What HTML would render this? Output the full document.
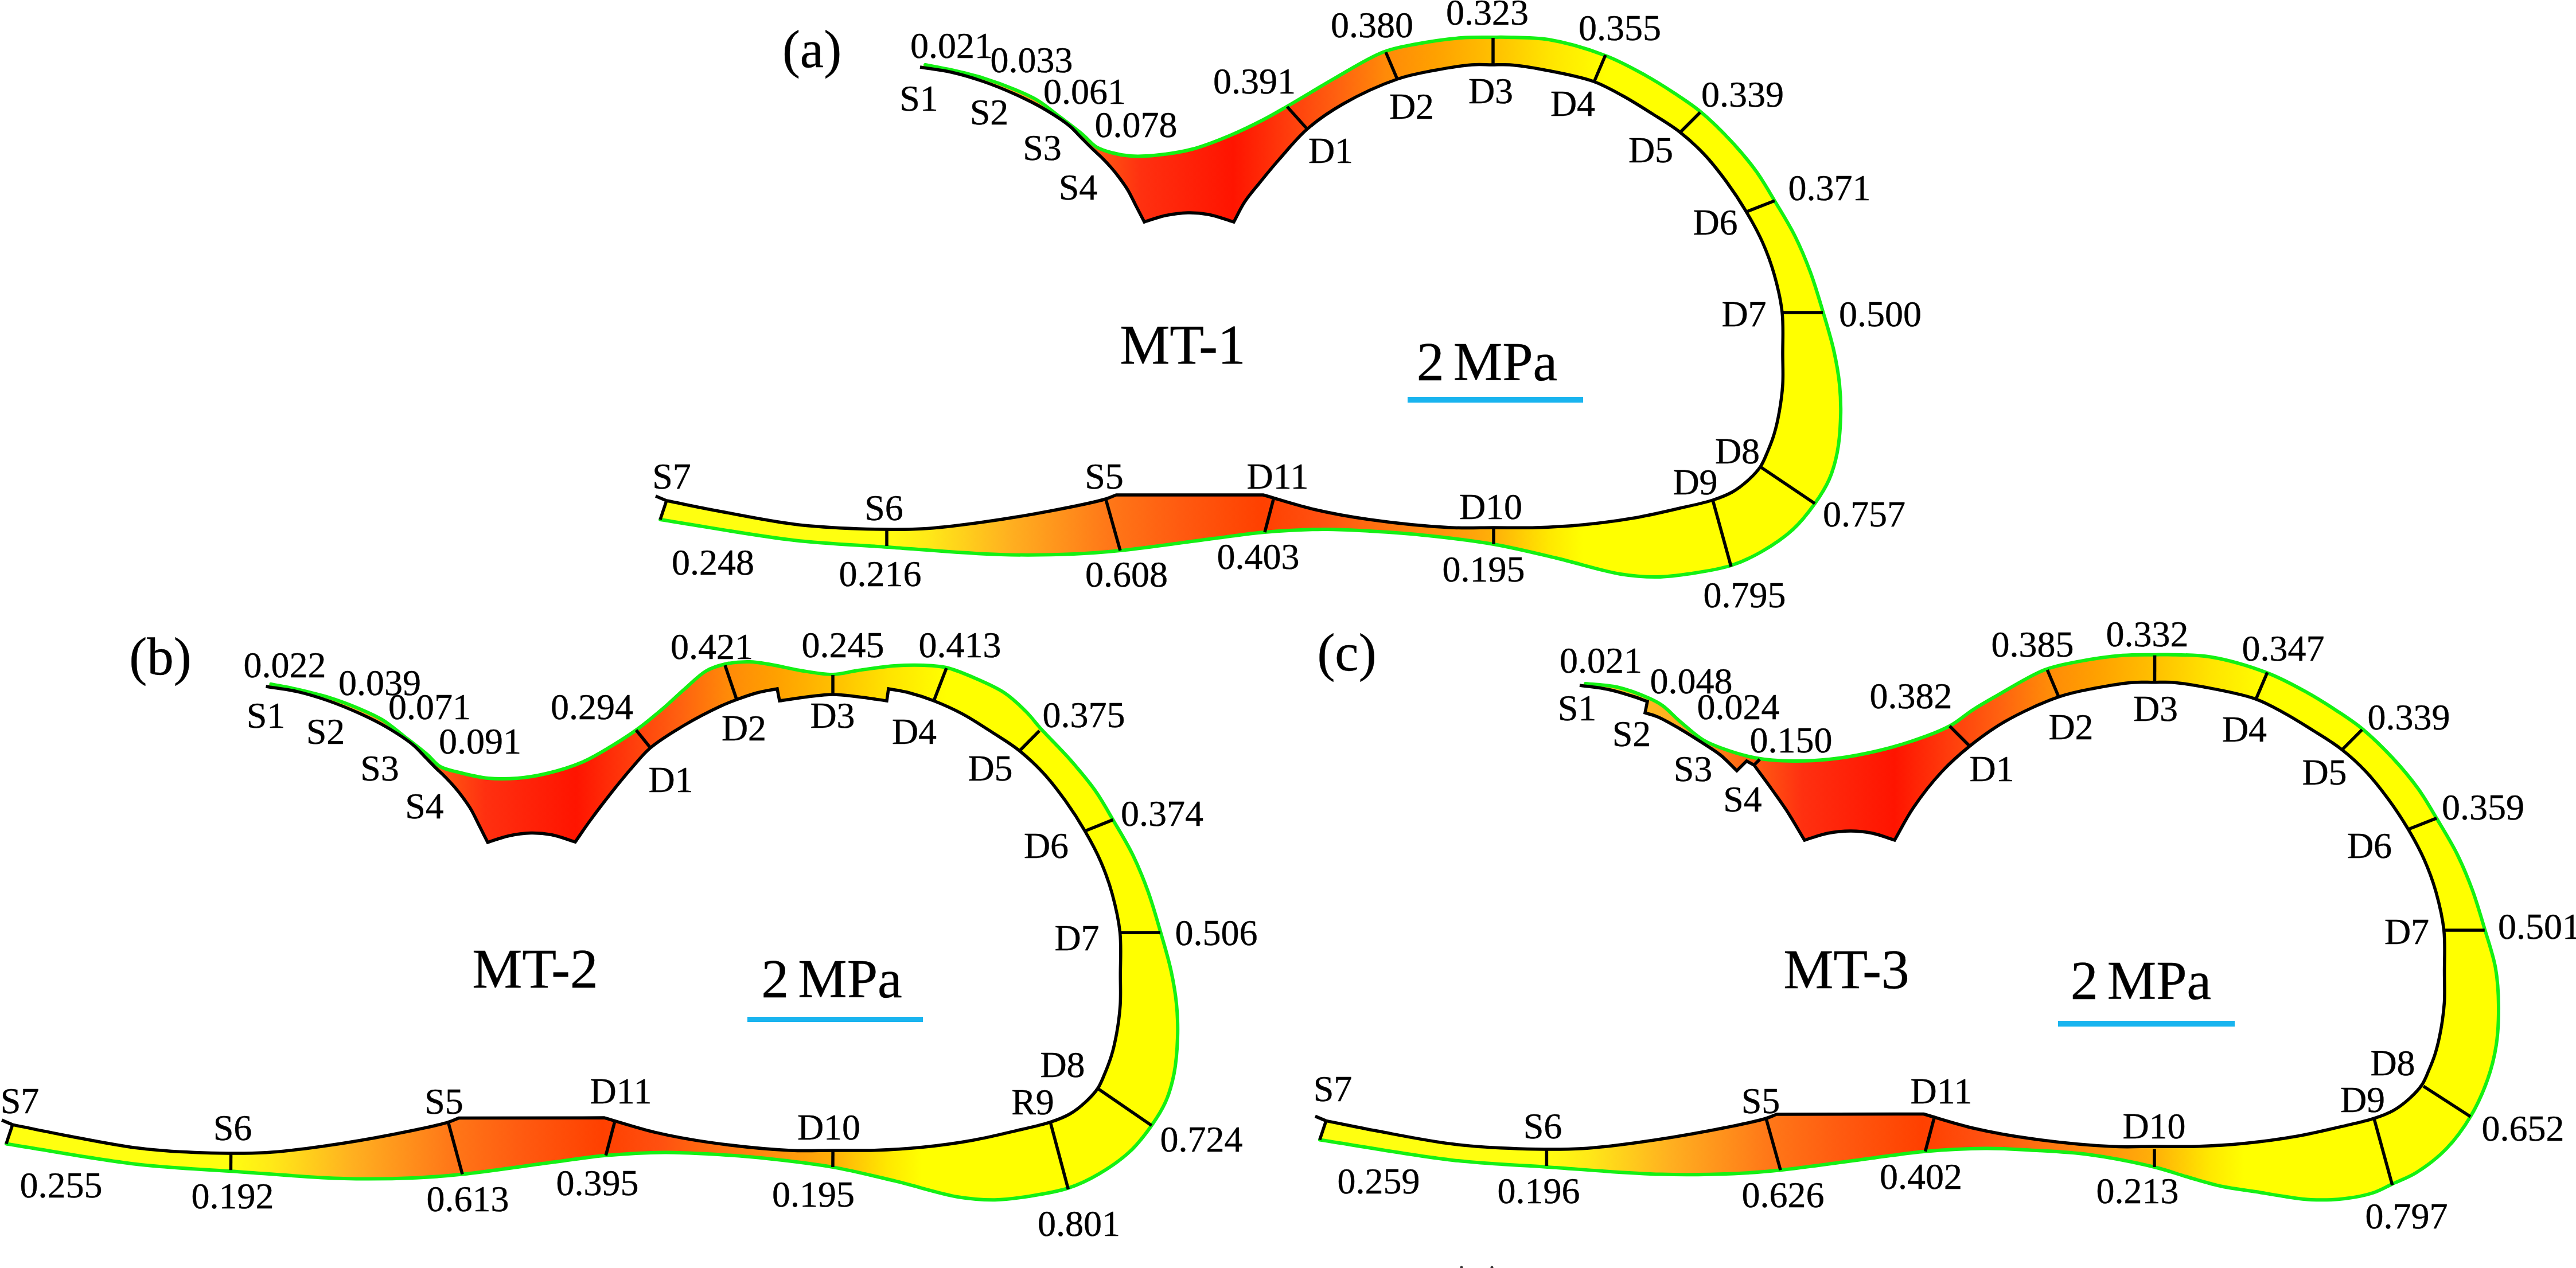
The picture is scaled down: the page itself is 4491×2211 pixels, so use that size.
<!DOCTYPE html><html><head><meta charset="utf-8"><style>html,body{margin:0;padding:0;background:#fff;overflow:hidden}svg{display:block}</style></head><body>
<svg width="4491" height="2211" viewBox="0 0 4491 2211">
<rect width="4491" height="2211" fill="#fff"/>
<defs><linearGradient id="gtop" gradientUnits="userSpaceOnUse" x1="1600" y1="0" x2="2800" y2="0"><stop offset="0.0000" stop-color="#ffd020"/><stop offset="0.1333" stop-color="#ffb020"/><stop offset="0.2333" stop-color="#ff6a14"/><stop offset="0.3250" stop-color="#ff3010"/><stop offset="0.4583" stop-color="#ff1400"/><stop offset="0.5375" stop-color="#ff3c0c"/><stop offset="0.6083" stop-color="#ff6010"/><stop offset="0.6800" stop-color="#ff8a08"/><stop offset="0.7500" stop-color="#ffa000"/><stop offset="0.8367" stop-color="#ffc000"/><stop offset="0.9167" stop-color="#ffe400"/><stop offset="1.0000" stop-color="#ffff00"/></linearGradient><linearGradient id="gbot" gradientUnits="userSpaceOnUse" x1="1140" y1="0" x2="2760" y2="0"><stop offset="0.0000" stop-color="#ffff10"/><stop offset="0.2469" stop-color="#ffff10"/><stop offset="0.2963" stop-color="#ffe818"/><stop offset="0.3827" stop-color="#ffb020"/><stop offset="0.4877" stop-color="#ff7818"/><stop offset="0.5679" stop-color="#ff5a10"/><stop offset="0.6543" stop-color="#ff4000"/><stop offset="0.7160" stop-color="#ff5010"/><stop offset="0.8086" stop-color="#ff8010"/><stop offset="0.9037" stop-color="#ffb008"/><stop offset="0.9630" stop-color="#ffe800"/><stop offset="1.0000" stop-color="#ffff00"/></linearGradient></defs>
<clipPath id="clipa"><path d="M1613.0,113.0 C1628.3,116.0 1643.0,118.4 1659.0,122.0 C1676.6,126.0 1695.8,130.4 1714.0,136.0 C1732.5,141.7 1752.3,149.0 1769.0,156.0 C1783.5,162.1 1796.1,167.3 1809.0,175.0 C1822.5,183.1 1835.0,194.1 1848.0,204.0 C1861.3,214.1 1876.7,225.5 1888.0,235.0 C1896.9,242.5 1902.6,250.8 1911.0,256.0 C1919.0,260.9 1927.6,263.4 1937.0,266.0 C1947.4,268.9 1959.1,271.1 1971.0,272.0 C1984.0,273.0 1996.7,272.4 2012.0,271.0 C2031.7,269.2 2057.0,265.7 2079.0,260.0 C2101.4,254.2 2124.0,244.8 2145.0,236.0 C2164.9,227.7 2184.7,217.9 2202.0,209.0 C2216.9,201.3 2229.1,194.0 2243.0,186.0 C2257.5,177.7 2272.8,168.4 2287.0,160.0 C2300.4,152.1 2310.4,145.8 2326.0,137.0 C2348.8,124.1 2384.9,101.1 2411.0,91.0 C2431.3,83.1 2447.3,81.0 2468.0,77.0 C2492.1,72.4 2522.8,67.9 2547.0,66.0 C2567.5,64.4 2589.4,65.1 2604.0,65.0 C2613.0,64.9 2616.5,64.7 2626.0,65.0 C2643.4,65.5 2673.8,64.6 2700.0,69.0 C2730.9,74.1 2769.4,85.6 2799.0,97.0 C2824.6,106.8 2846.9,119.3 2868.0,131.0 C2886.8,141.4 2903.5,152.1 2920.0,163.0 C2935.7,173.4 2949.9,182.4 2965.0,195.0 C2982.5,209.5 3001.6,228.4 3018.0,246.0 C3033.9,263.1 3048.9,280.9 3062.0,299.0 C3074.4,316.3 3084.1,333.8 3095.0,352.0 C3106.4,371.0 3118.8,390.7 3129.0,411.0 C3139.2,431.4 3147.9,452.3 3156.0,474.0 C3164.3,496.3 3171.1,520.0 3178.0,543.0 C3184.8,565.7 3192.1,589.0 3197.0,611.0 C3201.5,631.2 3205.0,650.5 3207.0,670.0 C3208.9,688.8 3209.6,706.8 3209.0,726.0 C3208.4,746.4 3206.8,769.7 3203.0,789.0 C3199.7,806.0 3195.5,821.2 3189.0,836.0 C3182.5,850.8 3173.9,864.2 3164.0,878.0 C3153.2,893.2 3140.8,909.4 3126.0,923.0 C3110.1,937.6 3089.7,951.3 3071.0,962.0 C3053.6,972.0 3037.2,979.8 3018.0,986.0 C2996.9,992.8 2971.3,996.6 2949.0,1000.0 C2928.4,1003.1 2909.3,1005.8 2889.0,1006.0 C2868.0,1006.2 2849.1,1004.9 2825.0,1001.0 C2792.7,995.7 2750.1,981.7 2713.0,973.0 C2676.5,964.4 2640.9,955.5 2604.0,949.0 C2566.6,942.4 2527.0,937.9 2490.0,934.0 C2455.1,930.3 2419.8,927.9 2388.0,926.0 C2360.0,924.4 2337.1,922.9 2309.0,923.0 C2276.7,923.2 2238.3,925.1 2205.0,928.0 C2174.1,930.6 2150.1,934.7 2116.0,939.0 C2069.8,944.8 1998.0,955.4 1953.0,960.0 C1921.4,963.2 1902.0,964.8 1872.0,966.0 C1834.4,967.5 1792.0,968.4 1745.0,967.0 C1686.3,965.3 1609.8,958.4 1547.0,954.0 C1490.0,950.0 1443.0,948.7 1384.0,942.0 C1313.1,933.9 1228.7,918.0 1151.0,906.0 L1162.0,873.0 C1192.0,879.0 1219.1,884.8 1252.0,891.0 C1291.8,898.4 1341.7,908.8 1384.0,914.0 C1422.7,918.7 1458.6,920.7 1496.0,922.0 C1533.3,923.3 1571.7,924.0 1608.0,922.0 C1642.6,920.1 1673.8,915.8 1709.0,911.0 C1747.8,905.7 1792.7,898.3 1831.0,891.0 C1865.3,884.5 1908.7,875.8 1928.0,870.0 C1936.5,867.4 1940.0,865.3 1946.0,863.0 L2202.0,863.0 C2231.3,871.3 2259.7,880.9 2290.0,888.0 C2321.6,895.4 2352.2,901.0 2388.0,906.0 C2430.8,912.0 2490.3,918.0 2530.0,920.0 C2558.6,921.4 2579.4,920.0 2604.0,920.0 C2628.4,920.0 2651.9,920.8 2677.0,920.0 C2703.8,919.2 2731.8,917.7 2760.0,915.0 C2789.4,912.2 2821.1,908.0 2850.0,903.0 C2877.3,898.3 2904.8,891.6 2929.0,886.0 C2949.6,881.3 2969.6,877.4 2986.0,872.0 C2999.0,867.8 3009.6,863.8 3020.0,858.0 C3029.9,852.4 3038.8,845.4 3047.0,838.0 C3055.1,830.7 3063.2,822.5 3069.0,814.0 C3074.3,806.1 3077.2,797.9 3081.0,789.0 C3085.2,779.1 3089.6,768.3 3093.0,757.0 C3096.7,744.8 3099.6,731.7 3102.0,718.0 C3104.7,702.9 3107.0,686.3 3108.0,670.0 C3109.0,653.3 3108.1,637.6 3108.0,619.0 C3107.8,596.6 3109.6,568.9 3107.0,545.0 C3104.5,522.0 3099.0,499.0 3093.0,478.0 C3087.5,458.6 3080.9,440.9 3073.0,423.0 C3065.0,404.9 3055.3,387.4 3045.0,370.0 C3034.4,352.1 3022.4,333.9 3010.0,317.0 C2997.7,300.3 2985.0,283.8 2971.0,269.0 C2957.3,254.5 2942.4,241.0 2927.0,229.0 C2912.0,217.4 2896.1,208.2 2880.0,198.0 C2863.4,187.5 2846.2,176.4 2829.0,167.0 C2812.2,157.8 2797.6,149.0 2778.0,142.0 C2753.7,133.3 2719.1,127.0 2693.0,122.0 C2671.1,117.8 2649.0,114.2 2632.0,113.0 C2620.0,112.1 2611.6,113.0 2601.0,113.0 C2589.7,113.0 2579.5,112.0 2566.0,113.0 C2547.2,114.4 2520.9,118.8 2499.0,123.0 C2477.6,127.1 2458.7,130.2 2436.0,138.0 C2407.3,147.9 2369.6,165.2 2342.0,181.0 C2318.2,194.6 2297.9,208.5 2279.0,225.0 C2260.7,241.0 2244.8,261.2 2230.0,278.0 C2217.1,292.6 2205.6,306.9 2195.0,320.0 C2185.9,331.3 2177.4,340.8 2170.0,352.0 C2162.7,363.1 2157.3,375.3 2151.0,387.0 C2136.3,382.7 2121.1,376.6 2107.0,374.0 C2094.5,371.7 2083.3,370.7 2071.0,371.0 C2058.0,371.3 2043.9,373.3 2031.0,376.0 C2018.6,378.7 2007.0,383.3 1995.0,387.0 C1990.0,377.3 1984.9,367.5 1980.0,358.0 C1975.3,348.8 1971.1,339.5 1966.0,331.0 C1961.1,322.9 1955.2,314.9 1950.0,308.0 C1945.6,302.1 1941.7,297.4 1937.0,292.0 C1931.8,286.1 1925.6,279.5 1920.0,274.0 C1914.9,269.0 1910.4,265.2 1905.0,260.0 C1898.5,253.8 1890.9,245.9 1884.0,239.0 C1877.3,232.3 1872.5,225.9 1864.0,219.0 C1852.0,209.2 1833.0,197.3 1817.0,188.0 C1801.3,179.0 1785.7,171.5 1769.0,164.0 C1751.4,156.1 1732.5,148.4 1714.0,142.0 C1695.8,135.7 1677.5,130.2 1659.0,126.0 C1640.8,121.9 1622.3,120.0 1604.0,117.0 Z"/></clipPath>
<g clip-path="url(#clipa)">
<path d="M1613.0,113.0 C1628.3,116.0 1643.0,118.4 1659.0,122.0 C1676.6,126.0 1695.8,130.4 1714.0,136.0 C1732.5,141.7 1752.3,149.0 1769.0,156.0 C1783.5,162.1 1796.1,167.3 1809.0,175.0 C1822.5,183.1 1835.0,194.1 1848.0,204.0 C1861.3,214.1 1876.7,225.5 1888.0,235.0 C1896.9,242.5 1902.6,250.8 1911.0,256.0 C1919.0,260.9 1927.6,263.4 1937.0,266.0 C1947.4,268.9 1959.1,271.1 1971.0,272.0 C1984.0,273.0 1996.7,272.4 2012.0,271.0 C2031.7,269.2 2057.0,265.7 2079.0,260.0 C2101.4,254.2 2124.0,244.8 2145.0,236.0 C2164.9,227.7 2184.7,217.9 2202.0,209.0 C2216.9,201.3 2229.1,194.0 2243.0,186.0 C2257.5,177.7 2272.8,168.4 2287.0,160.0 C2300.4,152.1 2310.4,145.8 2326.0,137.0 C2348.8,124.1 2384.9,101.1 2411.0,91.0 C2431.3,83.1 2447.3,81.0 2468.0,77.0 C2492.1,72.4 2522.8,67.9 2547.0,66.0 C2567.5,64.4 2589.4,65.1 2604.0,65.0 C2613.0,64.9 2616.5,64.7 2626.0,65.0 C2643.4,65.5 2673.8,64.6 2700.0,69.0 C2730.9,74.1 2769.4,85.6 2799.0,97.0 C2824.6,106.8 2846.9,119.3 2868.0,131.0 C2886.8,141.4 2903.5,152.1 2920.0,163.0 C2935.7,173.4 2949.9,182.4 2965.0,195.0 C2982.5,209.5 3001.6,228.4 3018.0,246.0 C3033.9,263.1 3048.9,280.9 3062.0,299.0 C3074.4,316.3 3084.1,333.8 3095.0,352.0 C3106.4,371.0 3118.8,390.7 3129.0,411.0 C3139.2,431.4 3147.9,452.3 3156.0,474.0 C3164.3,496.3 3171.1,520.0 3178.0,543.0 C3184.8,565.7 3192.1,589.0 3197.0,611.0 C3201.5,631.2 3205.0,650.5 3207.0,670.0 C3208.9,688.8 3209.6,706.8 3209.0,726.0 C3208.4,746.4 3206.8,769.7 3203.0,789.0 C3199.7,806.0 3195.5,821.2 3189.0,836.0 C3182.5,850.8 3173.9,864.2 3164.0,878.0 C3153.2,893.2 3140.8,909.4 3126.0,923.0 C3110.1,937.6 3089.7,951.3 3071.0,962.0 C3053.6,972.0 3037.2,979.8 3018.0,986.0 C2996.9,992.8 2971.3,996.6 2949.0,1000.0 C2928.4,1003.1 2909.3,1005.8 2889.0,1006.0 C2868.0,1006.2 2849.1,1004.9 2825.0,1001.0 C2792.7,995.7 2750.1,981.7 2713.0,973.0 C2676.5,964.4 2640.9,955.5 2604.0,949.0 C2566.6,942.4 2527.0,937.9 2490.0,934.0 C2455.1,930.3 2419.8,927.9 2388.0,926.0 C2360.0,924.4 2337.1,922.9 2309.0,923.0 C2276.7,923.2 2238.3,925.1 2205.0,928.0 C2174.1,930.6 2150.1,934.7 2116.0,939.0 C2069.8,944.8 1998.0,955.4 1953.0,960.0 C1921.4,963.2 1902.0,964.8 1872.0,966.0 C1834.4,967.5 1792.0,968.4 1745.0,967.0 C1686.3,965.3 1609.8,958.4 1547.0,954.0 C1490.0,950.0 1443.0,948.7 1384.0,942.0 C1313.1,933.9 1228.7,918.0 1151.0,906.0 L1162.0,873.0 C1192.0,879.0 1219.1,884.8 1252.0,891.0 C1291.8,898.4 1341.7,908.8 1384.0,914.0 C1422.7,918.7 1458.6,920.7 1496.0,922.0 C1533.3,923.3 1571.7,924.0 1608.0,922.0 C1642.6,920.1 1673.8,915.8 1709.0,911.0 C1747.8,905.7 1792.7,898.3 1831.0,891.0 C1865.3,884.5 1908.7,875.8 1928.0,870.0 C1936.5,867.4 1940.0,865.3 1946.0,863.0 L2202.0,863.0 C2231.3,871.3 2259.7,880.9 2290.0,888.0 C2321.6,895.4 2352.2,901.0 2388.0,906.0 C2430.8,912.0 2490.3,918.0 2530.0,920.0 C2558.6,921.4 2579.4,920.0 2604.0,920.0 C2628.4,920.0 2651.9,920.8 2677.0,920.0 C2703.8,919.2 2731.8,917.7 2760.0,915.0 C2789.4,912.2 2821.1,908.0 2850.0,903.0 C2877.3,898.3 2904.8,891.6 2929.0,886.0 C2949.6,881.3 2969.6,877.4 2986.0,872.0 C2999.0,867.8 3009.6,863.8 3020.0,858.0 C3029.9,852.4 3038.8,845.4 3047.0,838.0 C3055.1,830.7 3063.2,822.5 3069.0,814.0 C3074.3,806.1 3077.2,797.9 3081.0,789.0 C3085.2,779.1 3089.6,768.3 3093.0,757.0 C3096.7,744.8 3099.6,731.7 3102.0,718.0 C3104.7,702.9 3107.0,686.3 3108.0,670.0 C3109.0,653.3 3108.1,637.6 3108.0,619.0 C3107.8,596.6 3109.6,568.9 3107.0,545.0 C3104.5,522.0 3099.0,499.0 3093.0,478.0 C3087.5,458.6 3080.9,440.9 3073.0,423.0 C3065.0,404.9 3055.3,387.4 3045.0,370.0 C3034.4,352.1 3022.4,333.9 3010.0,317.0 C2997.7,300.3 2985.0,283.8 2971.0,269.0 C2957.3,254.5 2942.4,241.0 2927.0,229.0 C2912.0,217.4 2896.1,208.2 2880.0,198.0 C2863.4,187.5 2846.2,176.4 2829.0,167.0 C2812.2,157.8 2797.6,149.0 2778.0,142.0 C2753.7,133.3 2719.1,127.0 2693.0,122.0 C2671.1,117.8 2649.0,114.2 2632.0,113.0 C2620.0,112.1 2611.6,113.0 2601.0,113.0 C2589.7,113.0 2579.5,112.0 2566.0,113.0 C2547.2,114.4 2520.9,118.8 2499.0,123.0 C2477.6,127.1 2458.7,130.2 2436.0,138.0 C2407.3,147.9 2369.6,165.2 2342.0,181.0 C2318.2,194.6 2297.9,208.5 2279.0,225.0 C2260.7,241.0 2244.8,261.2 2230.0,278.0 C2217.1,292.6 2205.6,306.9 2195.0,320.0 C2185.9,331.3 2177.4,340.8 2170.0,352.0 C2162.7,363.1 2157.3,375.3 2151.0,387.0 C2136.3,382.7 2121.1,376.6 2107.0,374.0 C2094.5,371.7 2083.3,370.7 2071.0,371.0 C2058.0,371.3 2043.9,373.3 2031.0,376.0 C2018.6,378.7 2007.0,383.3 1995.0,387.0 C1990.0,377.3 1984.9,367.5 1980.0,358.0 C1975.3,348.8 1971.1,339.5 1966.0,331.0 C1961.1,322.9 1955.2,314.9 1950.0,308.0 C1945.6,302.1 1941.7,297.4 1937.0,292.0 C1931.8,286.1 1925.6,279.5 1920.0,274.0 C1914.9,269.0 1910.4,265.2 1905.0,260.0 C1898.5,253.8 1890.9,245.9 1884.0,239.0 C1877.3,232.3 1872.5,225.9 1864.0,219.0 C1852.0,209.2 1833.0,197.3 1817.0,188.0 C1801.3,179.0 1785.7,171.5 1769.0,164.0 C1751.4,156.1 1732.5,148.4 1714.0,142.0 C1695.8,135.7 1677.5,130.2 1659.0,126.0 C1640.8,121.9 1622.3,120.0 1604.0,117.0 Z" fill="#ffff00"/>
<g transform="matrix(1.000000 0.000000 0.000000 1.000000 0.000 0.000)">
<rect x="1590" y="20" width="1240" height="400" fill="url(#gtop)"/>
<rect x="1130" y="830" width="1640" height="200" fill="url(#gbot)"/>
</g></g>
<path d="M1613.0,113.0 C1628.3,116.0 1643.0,118.4 1659.0,122.0 C1676.6,126.0 1695.8,130.4 1714.0,136.0 C1732.5,141.7 1752.3,149.0 1769.0,156.0 C1783.5,162.1 1796.1,167.3 1809.0,175.0 C1822.5,183.1 1835.0,194.1 1848.0,204.0 C1861.3,214.1 1876.7,225.5 1888.0,235.0 C1896.9,242.5 1902.6,250.8 1911.0,256.0 C1919.0,260.9 1927.6,263.4 1937.0,266.0 C1947.4,268.9 1959.1,271.1 1971.0,272.0 C1984.0,273.0 1996.7,272.4 2012.0,271.0 C2031.7,269.2 2057.0,265.7 2079.0,260.0 C2101.4,254.2 2124.0,244.8 2145.0,236.0 C2164.9,227.7 2184.7,217.9 2202.0,209.0 C2216.9,201.3 2229.1,194.0 2243.0,186.0 C2257.5,177.7 2272.8,168.4 2287.0,160.0 C2300.4,152.1 2310.4,145.8 2326.0,137.0 C2348.8,124.1 2384.9,101.1 2411.0,91.0 C2431.3,83.1 2447.3,81.0 2468.0,77.0 C2492.1,72.4 2522.8,67.9 2547.0,66.0 C2567.5,64.4 2589.4,65.1 2604.0,65.0 C2613.0,64.9 2616.5,64.7 2626.0,65.0 C2643.4,65.5 2673.8,64.6 2700.0,69.0 C2730.9,74.1 2769.4,85.6 2799.0,97.0 C2824.6,106.8 2846.9,119.3 2868.0,131.0 C2886.8,141.4 2903.5,152.1 2920.0,163.0 C2935.7,173.4 2949.9,182.4 2965.0,195.0 C2982.5,209.5 3001.6,228.4 3018.0,246.0 C3033.9,263.1 3048.9,280.9 3062.0,299.0 C3074.4,316.3 3084.1,333.8 3095.0,352.0 C3106.4,371.0 3118.8,390.7 3129.0,411.0 C3139.2,431.4 3147.9,452.3 3156.0,474.0 C3164.3,496.3 3171.1,520.0 3178.0,543.0 C3184.8,565.7 3192.1,589.0 3197.0,611.0 C3201.5,631.2 3205.0,650.5 3207.0,670.0 C3208.9,688.8 3209.6,706.8 3209.0,726.0 C3208.4,746.4 3206.8,769.7 3203.0,789.0 C3199.7,806.0 3195.5,821.2 3189.0,836.0 C3182.5,850.8 3173.9,864.2 3164.0,878.0 C3153.2,893.2 3140.8,909.4 3126.0,923.0 C3110.1,937.6 3089.7,951.3 3071.0,962.0 C3053.6,972.0 3037.2,979.8 3018.0,986.0 C2996.9,992.8 2971.3,996.6 2949.0,1000.0 C2928.4,1003.1 2909.3,1005.8 2889.0,1006.0 C2868.0,1006.2 2849.1,1004.9 2825.0,1001.0 C2792.7,995.7 2750.1,981.7 2713.0,973.0 C2676.5,964.4 2640.9,955.5 2604.0,949.0 C2566.6,942.4 2527.0,937.9 2490.0,934.0 C2455.1,930.3 2419.8,927.9 2388.0,926.0 C2360.0,924.4 2337.1,922.9 2309.0,923.0 C2276.7,923.2 2238.3,925.1 2205.0,928.0 C2174.1,930.6 2150.1,934.7 2116.0,939.0 C2069.8,944.8 1998.0,955.4 1953.0,960.0 C1921.4,963.2 1902.0,964.8 1872.0,966.0 C1834.4,967.5 1792.0,968.4 1745.0,967.0 C1686.3,965.3 1609.8,958.4 1547.0,954.0 C1490.0,950.0 1443.0,948.7 1384.0,942.0 C1313.1,933.9 1228.7,918.0 1151.0,906.0" fill="none" stroke="#14f014" stroke-width="6" stroke-linejoin="round" stroke-linecap="round"/>
<path d="M1162.0,873.0 C1192.0,879.0 1219.1,884.8 1252.0,891.0 C1291.8,898.4 1341.7,908.8 1384.0,914.0 C1422.7,918.7 1458.6,920.7 1496.0,922.0 C1533.3,923.3 1571.7,924.0 1608.0,922.0 C1642.6,920.1 1673.8,915.8 1709.0,911.0 C1747.8,905.7 1792.7,898.3 1831.0,891.0 C1865.3,884.5 1908.7,875.8 1928.0,870.0 C1936.5,867.4 1940.0,865.3 1946.0,863.0 L2202.0,863.0 C2231.3,871.3 2259.7,880.9 2290.0,888.0 C2321.6,895.4 2352.2,901.0 2388.0,906.0 C2430.8,912.0 2490.3,918.0 2530.0,920.0 C2558.6,921.4 2579.4,920.0 2604.0,920.0 C2628.4,920.0 2651.9,920.8 2677.0,920.0 C2703.8,919.2 2731.8,917.7 2760.0,915.0 C2789.4,912.2 2821.1,908.0 2850.0,903.0 C2877.3,898.3 2904.8,891.6 2929.0,886.0 C2949.6,881.3 2969.6,877.4 2986.0,872.0 C2999.0,867.8 3009.6,863.8 3020.0,858.0 C3029.9,852.4 3038.8,845.4 3047.0,838.0 C3055.1,830.7 3063.2,822.5 3069.0,814.0 C3074.3,806.1 3077.2,797.9 3081.0,789.0 C3085.2,779.1 3089.6,768.3 3093.0,757.0 C3096.7,744.8 3099.6,731.7 3102.0,718.0 C3104.7,702.9 3107.0,686.3 3108.0,670.0 C3109.0,653.3 3108.1,637.6 3108.0,619.0 C3107.8,596.6 3109.6,568.9 3107.0,545.0 C3104.5,522.0 3099.0,499.0 3093.0,478.0 C3087.5,458.6 3080.9,440.9 3073.0,423.0 C3065.0,404.9 3055.3,387.4 3045.0,370.0 C3034.4,352.1 3022.4,333.9 3010.0,317.0 C2997.7,300.3 2985.0,283.8 2971.0,269.0 C2957.3,254.5 2942.4,241.0 2927.0,229.0 C2912.0,217.4 2896.1,208.2 2880.0,198.0 C2863.4,187.5 2846.2,176.4 2829.0,167.0 C2812.2,157.8 2797.6,149.0 2778.0,142.0 C2753.7,133.3 2719.1,127.0 2693.0,122.0 C2671.1,117.8 2649.0,114.2 2632.0,113.0 C2620.0,112.1 2611.6,113.0 2601.0,113.0 C2589.7,113.0 2579.5,112.0 2566.0,113.0 C2547.2,114.4 2520.9,118.8 2499.0,123.0 C2477.6,127.1 2458.7,130.2 2436.0,138.0 C2407.3,147.9 2369.6,165.2 2342.0,181.0 C2318.2,194.6 2297.9,208.5 2279.0,225.0 C2260.7,241.0 2244.8,261.2 2230.0,278.0 C2217.1,292.6 2205.6,306.9 2195.0,320.0 C2185.9,331.3 2177.4,340.8 2170.0,352.0 C2162.7,363.1 2157.3,375.3 2151.0,387.0 C2136.3,382.7 2121.1,376.6 2107.0,374.0 C2094.5,371.7 2083.3,370.7 2071.0,371.0 C2058.0,371.3 2043.9,373.3 2031.0,376.0 C2018.6,378.7 2007.0,383.3 1995.0,387.0 C1990.0,377.3 1984.9,367.5 1980.0,358.0 C1975.3,348.8 1971.1,339.5 1966.0,331.0 C1961.1,322.9 1955.2,314.9 1950.0,308.0 C1945.6,302.1 1941.7,297.4 1937.0,292.0 C1931.8,286.1 1925.6,279.5 1920.0,274.0 C1914.9,269.0 1910.4,265.2 1905.0,260.0 C1898.5,253.8 1890.9,245.9 1884.0,239.0 C1877.3,232.3 1872.5,225.9 1864.0,219.0 C1852.0,209.2 1833.0,197.3 1817.0,188.0 C1801.3,179.0 1785.7,171.5 1769.0,164.0 C1751.4,156.1 1732.5,148.4 1714.0,142.0 C1695.8,135.7 1677.5,130.2 1659.0,126.0 C1640.8,121.9 1622.3,120.0 1604.0,117.0" fill="none" stroke="#000" stroke-width="5.5" stroke-linejoin="miter"/>
<line x1="2244.0" y1="186.0" x2="2279.0" y2="225.0" stroke="#000" stroke-width="5.5"/>
<line x1="2416.0" y1="91.0" x2="2436.0" y2="138.0" stroke="#000" stroke-width="5.5"/>
<line x1="2603.0" y1="66.0" x2="2603.0" y2="113.0" stroke="#000" stroke-width="5.5"/>
<line x1="2799.0" y1="96.0" x2="2779.0" y2="143.0" stroke="#000" stroke-width="5.5"/>
<line x1="2964.0" y1="196.0" x2="2929.0" y2="231.0" stroke="#000" stroke-width="5.5"/>
<line x1="3094.0" y1="350.0" x2="3043.0" y2="370.0" stroke="#000" stroke-width="5.5"/>
<line x1="3178.0" y1="545.0" x2="3107.0" y2="545.0" stroke="#000" stroke-width="5.5"/>
<line x1="3164.0" y1="878.0" x2="3069.0" y2="814.0" stroke="#000" stroke-width="5.5"/>
<line x1="3018.0" y1="988.0" x2="2986.0" y2="872.0" stroke="#000" stroke-width="5.5"/>
<line x1="2604.0" y1="949.0" x2="2604.0" y2="920.0" stroke="#000" stroke-width="5.5"/>
<line x1="2205.0" y1="928.0" x2="2220.0" y2="871.0" stroke="#000" stroke-width="5.5"/>
<line x1="1953.0" y1="960.0" x2="1928.0" y2="871.0" stroke="#000" stroke-width="5.5"/>
<line x1="1546.0" y1="952.0" x2="1546.0" y2="922.0" stroke="#000" stroke-width="5.5"/>
<line x1="1151.0" y1="906.0" x2="1162.0" y2="873.0" stroke="#000" stroke-width="5.5"/>
<line x1="1143.0" y1="865.0" x2="1162.0" y2="873.0" stroke="#000" stroke-width="5.5"/>
<clipPath id="clipb"><path d="M472.4,1192.9 C487.6,1195.9 502.2,1198.3 518.0,1201.9 C535.4,1205.9 554.5,1210.3 572.5,1215.9 C590.8,1221.6 610.4,1229.0 627.0,1236.0 C641.4,1242.1 653.9,1247.3 666.6,1255.1 C680.0,1263.3 692.3,1274.4 705.2,1284.3 C718.3,1294.5 733.5,1306.0 744.7,1315.6 C753.5,1323.1 758.4,1331.5 767.4,1336.7 C777.0,1342.2 788.6,1343.9 801.0,1347.0 C815.9,1350.8 834.2,1355.3 851.0,1357.0 C867.8,1358.7 885.1,1358.3 902.0,1357.0 C918.8,1355.7 934.5,1353.1 952.0,1349.0 C972.0,1344.3 995.5,1337.4 1015.0,1329.0 C1033.3,1321.2 1049.9,1310.6 1066.0,1301.0 C1081.1,1291.9 1094.8,1283.3 1109.0,1273.0 C1124.1,1262.1 1139.6,1249.2 1154.0,1237.0 C1167.9,1225.2 1180.8,1212.4 1194.0,1201.0 C1206.5,1190.2 1218.4,1177.3 1231.0,1170.0 C1241.8,1163.8 1252.1,1160.7 1264.0,1158.0 C1277.2,1155.0 1293.1,1153.7 1307.0,1154.0 C1320.1,1154.2 1331.5,1156.8 1345.0,1159.0 C1360.6,1161.6 1377.7,1166.2 1395.0,1169.0 C1413.3,1172.0 1434.2,1176.3 1452.0,1176.0 C1467.6,1175.7 1480.0,1171.3 1496.0,1169.0 C1515.1,1166.3 1539.1,1162.5 1559.0,1161.0 C1576.9,1159.7 1594.0,1159.4 1610.0,1160.0 C1624.2,1160.6 1636.1,1160.8 1650.0,1164.0 C1666.2,1167.8 1684.3,1175.7 1701.0,1183.0 C1717.9,1190.4 1736.0,1198.0 1751.0,1208.0 C1765.2,1217.5 1777.9,1229.9 1789.0,1241.0 C1798.9,1250.9 1804.8,1259.7 1815.0,1271.0 C1828.9,1286.4 1849.7,1306.4 1865.6,1324.5 C1880.9,1342.1 1896.1,1359.7 1909.0,1378.0 C1921.3,1395.4 1930.7,1413.0 1941.5,1431.4 C1952.7,1450.6 1965.0,1470.4 1975.0,1490.9 C1985.0,1511.5 1993.6,1532.6 2001.5,1554.5 C2009.6,1577.0 2016.3,1600.9 2023.0,1624.1 C2029.7,1647.0 2036.8,1670.5 2041.6,1692.7 C2046.0,1713.2 2049.4,1732.6 2051.2,1752.3 C2053.1,1771.3 2053.6,1789.4 2053.0,1808.8 C2052.3,1829.4 2050.6,1853.0 2046.8,1872.4 C2043.4,1889.6 2039.2,1904.9 2032.7,1919.9 C2026.2,1934.9 2017.6,1948.4 2007.7,1962.4 C1996.9,1977.7 1984.6,1994.1 1969.8,2007.9 C1954.1,2022.6 1933.7,2036.5 1915.1,2047.4 C1897.9,2057.5 1881.5,2065.4 1862.4,2071.7 C1841.5,2078.6 1816.1,2082.5 1793.9,2086.0 C1773.5,2089.2 1754.6,2091.9 1734.4,2092.2 C1713.6,2092.4 1694.8,2091.1 1670.9,2087.2 C1638.9,2082.0 1596.8,2067.9 1560.0,2059.2 C1523.8,2050.6 1488.5,2041.6 1451.9,2035.1 C1414.8,2028.6 1375.6,2024.1 1338.9,2020.2 C1304.3,2016.6 1269.4,2014.1 1237.8,2012.3 C1210.0,2010.7 1187.3,2009.3 1159.4,2009.4 C1127.4,2009.7 1089.2,2011.8 1056.2,2014.7 C1025.6,2017.4 1001.8,2021.6 967.9,2026.0 C922.1,2031.9 850.8,2042.8 806.1,2047.5 C774.8,2050.8 755.6,2052.4 725.8,2053.7 C688.5,2055.3 646.4,2056.2 599.8,2055.0 C541.5,2053.4 465.7,2046.5 403.4,2042.2 C346.9,2038.3 300.3,2037.1 241.8,2030.4 C171.5,2022.4 87.8,2006.5 10.8,1994.5 L21.9,1961.1 C51.6,1967.1 78.5,1973.0 111.1,1979.2 C150.5,1986.6 200.0,1997.0 241.9,2002.1 C280.3,2006.8 315.9,2008.7 353.0,2010.0 C390.0,2011.3 428.0,2011.8 464.1,2009.8 C498.4,2007.8 529.4,2003.4 564.3,1998.5 C602.8,1993.1 647.4,1985.5 685.4,1978.0 C719.4,1971.4 762.5,1962.6 781.7,1956.7 C790.2,1954.1 793.6,1951.9 799.6,1949.6 L1053.5,1949.1 C1082.6,1957.4 1110.7,1967.1 1140.7,1974.1 C1172.1,1981.5 1202.4,1987.1 1237.9,1992.1 C1280.3,1998.1 1339.3,2004.1 1378.7,2006.0 C1407.0,2007.4 1427.7,2005.9 1452.1,2005.9 C1476.3,2005.8 1499.6,2006.5 1524.5,2005.7 C1551.0,2004.9 1578.9,2003.3 1606.8,2000.5 C1636.0,1997.6 1667.4,1993.4 1696.1,1988.2 C1723.2,1983.4 1750.6,1976.6 1774.6,1970.9 C1795.0,1966.1 1814.9,1962.1 1831.2,1956.7 C1844.1,1952.4 1854.7,1948.4 1865.0,1942.5 C1874.8,1936.8 1883.7,1929.7 1891.8,1922.2 C1899.9,1914.8 1908.0,1906.6 1913.8,1897.9 C1919.1,1890.0 1921.9,1881.7 1925.8,1872.7 C1930.0,1862.7 1934.4,1851.8 1937.8,1840.3 C1941.5,1828.0 1944.4,1814.8 1946.9,1800.9 C1949.6,1785.7 1952.0,1768.9 1953.0,1752.5 C1954.1,1735.6 1953.3,1719.7 1953.3,1701.0 C1953.2,1678.4 1955.1,1650.4 1952.6,1626.3 C1950.2,1603.0 1944.8,1579.9 1939.0,1558.6 C1933.6,1539.0 1927.2,1521.2 1919.4,1503.1 C1911.5,1484.9 1902.0,1467.2 1891.8,1449.7 C1881.4,1431.6 1869.6,1413.3 1857.3,1396.2 C1845.2,1379.4 1832.7,1362.7 1818.8,1347.8 C1805.3,1333.2 1790.6,1319.6 1775.4,1307.5 C1760.6,1295.8 1744.8,1286.6 1728.9,1276.3 C1712.5,1265.8 1695.5,1254.3 1678.4,1245.1 C1661.9,1236.3 1644.3,1228.4 1628.0,1222.0 C1613.3,1216.2 1598.8,1211.6 1585.0,1208.0 C1572.6,1204.8 1561.0,1203.3 1549.0,1201.0 L1546.0,1222.0 C1529.3,1219.7 1512.2,1216.9 1496.0,1215.0 C1480.9,1213.3 1466.7,1211.0 1452.0,1211.0 C1437.3,1211.0 1423.0,1213.2 1408.0,1215.0 C1392.1,1216.9 1375.3,1219.7 1359.0,1222.0 L1355.0,1201.0 C1343.3,1203.3 1331.7,1204.9 1320.0,1208.0 C1308.0,1211.2 1295.1,1215.9 1284.0,1220.0 C1274.3,1223.6 1267.7,1226.0 1257.0,1231.0 C1240.2,1238.8 1214.4,1251.9 1194.0,1264.0 C1173.4,1276.2 1150.0,1290.5 1134.0,1304.0 C1121.5,1314.5 1114.4,1324.2 1104.0,1336.0 C1091.9,1349.8 1078.5,1366.2 1066.0,1382.0 C1053.2,1398.2 1039.2,1416.6 1028.0,1432.0 C1018.6,1444.9 1011.3,1456.0 1003.0,1468.0 C989.1,1463.8 974.8,1458.1 961.4,1455.5 C949.1,1453.2 937.9,1452.3 925.7,1452.5 C912.8,1452.8 898.7,1454.9 886.0,1457.7 C873.6,1460.4 862.1,1465.1 850.2,1468.8 C845.3,1459.1 840.3,1449.2 835.5,1439.6 C830.8,1430.3 826.7,1420.9 821.7,1412.3 C816.8,1404.1 811.0,1396.1 805.9,1389.2 C801.5,1383.2 797.8,1378.5 793.1,1373.0 C788.0,1367.1 781.8,1360.5 776.3,1354.9 C771.3,1349.8 766.8,1346.0 761.5,1340.8 C755.1,1334.5 747.6,1326.6 740.7,1319.6 C734.1,1312.8 729.4,1306.4 721.0,1299.5 C709.1,1289.6 690.4,1277.6 674.5,1268.2 C659.0,1259.2 643.5,1251.6 627.0,1244.1 C609.6,1236.2 590.8,1228.4 572.5,1222.0 C554.5,1215.7 536.3,1210.1 518.0,1205.9 C500.0,1201.8 481.7,1200.0 463.5,1197.0 Z"/></clipPath>
<g clip-path="url(#clipb)">
<path d="M472.4,1192.9 C487.6,1195.9 502.2,1198.3 518.0,1201.9 C535.4,1205.9 554.5,1210.3 572.5,1215.9 C590.8,1221.6 610.4,1229.0 627.0,1236.0 C641.4,1242.1 653.9,1247.3 666.6,1255.1 C680.0,1263.3 692.3,1274.4 705.2,1284.3 C718.3,1294.5 733.5,1306.0 744.7,1315.6 C753.5,1323.1 758.4,1331.5 767.4,1336.7 C777.0,1342.2 788.6,1343.9 801.0,1347.0 C815.9,1350.8 834.2,1355.3 851.0,1357.0 C867.8,1358.7 885.1,1358.3 902.0,1357.0 C918.8,1355.7 934.5,1353.1 952.0,1349.0 C972.0,1344.3 995.5,1337.4 1015.0,1329.0 C1033.3,1321.2 1049.9,1310.6 1066.0,1301.0 C1081.1,1291.9 1094.8,1283.3 1109.0,1273.0 C1124.1,1262.1 1139.6,1249.2 1154.0,1237.0 C1167.9,1225.2 1180.8,1212.4 1194.0,1201.0 C1206.5,1190.2 1218.4,1177.3 1231.0,1170.0 C1241.8,1163.8 1252.1,1160.7 1264.0,1158.0 C1277.2,1155.0 1293.1,1153.7 1307.0,1154.0 C1320.1,1154.2 1331.5,1156.8 1345.0,1159.0 C1360.6,1161.6 1377.7,1166.2 1395.0,1169.0 C1413.3,1172.0 1434.2,1176.3 1452.0,1176.0 C1467.6,1175.7 1480.0,1171.3 1496.0,1169.0 C1515.1,1166.3 1539.1,1162.5 1559.0,1161.0 C1576.9,1159.7 1594.0,1159.4 1610.0,1160.0 C1624.2,1160.6 1636.1,1160.8 1650.0,1164.0 C1666.2,1167.8 1684.3,1175.7 1701.0,1183.0 C1717.9,1190.4 1736.0,1198.0 1751.0,1208.0 C1765.2,1217.5 1777.9,1229.9 1789.0,1241.0 C1798.9,1250.9 1804.8,1259.7 1815.0,1271.0 C1828.9,1286.4 1849.7,1306.4 1865.6,1324.5 C1880.9,1342.1 1896.1,1359.7 1909.0,1378.0 C1921.3,1395.4 1930.7,1413.0 1941.5,1431.4 C1952.7,1450.6 1965.0,1470.4 1975.0,1490.9 C1985.0,1511.5 1993.6,1532.6 2001.5,1554.5 C2009.6,1577.0 2016.3,1600.9 2023.0,1624.1 C2029.7,1647.0 2036.8,1670.5 2041.6,1692.7 C2046.0,1713.2 2049.4,1732.6 2051.2,1752.3 C2053.1,1771.3 2053.6,1789.4 2053.0,1808.8 C2052.3,1829.4 2050.6,1853.0 2046.8,1872.4 C2043.4,1889.6 2039.2,1904.9 2032.7,1919.9 C2026.2,1934.9 2017.6,1948.4 2007.7,1962.4 C1996.9,1977.7 1984.6,1994.1 1969.8,2007.9 C1954.1,2022.6 1933.7,2036.5 1915.1,2047.4 C1897.9,2057.5 1881.5,2065.4 1862.4,2071.7 C1841.5,2078.6 1816.1,2082.5 1793.9,2086.0 C1773.5,2089.2 1754.6,2091.9 1734.4,2092.2 C1713.6,2092.4 1694.8,2091.1 1670.9,2087.2 C1638.9,2082.0 1596.8,2067.9 1560.0,2059.2 C1523.8,2050.6 1488.5,2041.6 1451.9,2035.1 C1414.8,2028.6 1375.6,2024.1 1338.9,2020.2 C1304.3,2016.6 1269.4,2014.1 1237.8,2012.3 C1210.0,2010.7 1187.3,2009.3 1159.4,2009.4 C1127.4,2009.7 1089.2,2011.8 1056.2,2014.7 C1025.6,2017.4 1001.8,2021.6 967.9,2026.0 C922.1,2031.9 850.8,2042.8 806.1,2047.5 C774.8,2050.8 755.6,2052.4 725.8,2053.7 C688.5,2055.3 646.4,2056.2 599.8,2055.0 C541.5,2053.4 465.7,2046.5 403.4,2042.2 C346.9,2038.3 300.3,2037.1 241.8,2030.4 C171.5,2022.4 87.8,2006.5 10.8,1994.5 L21.9,1961.1 C51.6,1967.1 78.5,1973.0 111.1,1979.2 C150.5,1986.6 200.0,1997.0 241.9,2002.1 C280.3,2006.8 315.9,2008.7 353.0,2010.0 C390.0,2011.3 428.0,2011.8 464.1,2009.8 C498.4,2007.8 529.4,2003.4 564.3,1998.5 C602.8,1993.1 647.4,1985.5 685.4,1978.0 C719.4,1971.4 762.5,1962.6 781.7,1956.7 C790.2,1954.1 793.6,1951.9 799.6,1949.6 L1053.5,1949.1 C1082.6,1957.4 1110.7,1967.1 1140.7,1974.1 C1172.1,1981.5 1202.4,1987.1 1237.9,1992.1 C1280.3,1998.1 1339.3,2004.1 1378.7,2006.0 C1407.0,2007.4 1427.7,2005.9 1452.1,2005.9 C1476.3,2005.8 1499.6,2006.5 1524.5,2005.7 C1551.0,2004.9 1578.9,2003.3 1606.8,2000.5 C1636.0,1997.6 1667.4,1993.4 1696.1,1988.2 C1723.2,1983.4 1750.6,1976.6 1774.6,1970.9 C1795.0,1966.1 1814.9,1962.1 1831.2,1956.7 C1844.1,1952.4 1854.7,1948.4 1865.0,1942.5 C1874.8,1936.8 1883.7,1929.7 1891.8,1922.2 C1899.9,1914.8 1908.0,1906.6 1913.8,1897.9 C1919.1,1890.0 1921.9,1881.7 1925.8,1872.7 C1930.0,1862.7 1934.4,1851.8 1937.8,1840.3 C1941.5,1828.0 1944.4,1814.8 1946.9,1800.9 C1949.6,1785.7 1952.0,1768.9 1953.0,1752.5 C1954.1,1735.6 1953.3,1719.7 1953.3,1701.0 C1953.2,1678.4 1955.1,1650.4 1952.6,1626.3 C1950.2,1603.0 1944.8,1579.9 1939.0,1558.6 C1933.6,1539.0 1927.2,1521.2 1919.4,1503.1 C1911.5,1484.9 1902.0,1467.2 1891.8,1449.7 C1881.4,1431.6 1869.6,1413.3 1857.3,1396.2 C1845.2,1379.4 1832.7,1362.7 1818.8,1347.8 C1805.3,1333.2 1790.6,1319.6 1775.4,1307.5 C1760.6,1295.8 1744.8,1286.6 1728.9,1276.3 C1712.5,1265.8 1695.5,1254.3 1678.4,1245.1 C1661.9,1236.3 1644.3,1228.4 1628.0,1222.0 C1613.3,1216.2 1598.8,1211.6 1585.0,1208.0 C1572.6,1204.8 1561.0,1203.3 1549.0,1201.0 L1546.0,1222.0 C1529.3,1219.7 1512.2,1216.9 1496.0,1215.0 C1480.9,1213.3 1466.7,1211.0 1452.0,1211.0 C1437.3,1211.0 1423.0,1213.2 1408.0,1215.0 C1392.1,1216.9 1375.3,1219.7 1359.0,1222.0 L1355.0,1201.0 C1343.3,1203.3 1331.7,1204.9 1320.0,1208.0 C1308.0,1211.2 1295.1,1215.9 1284.0,1220.0 C1274.3,1223.6 1267.7,1226.0 1257.0,1231.0 C1240.2,1238.8 1214.4,1251.9 1194.0,1264.0 C1173.4,1276.2 1150.0,1290.5 1134.0,1304.0 C1121.5,1314.5 1114.4,1324.2 1104.0,1336.0 C1091.9,1349.8 1078.5,1366.2 1066.0,1382.0 C1053.2,1398.2 1039.2,1416.6 1028.0,1432.0 C1018.6,1444.9 1011.3,1456.0 1003.0,1468.0 C989.1,1463.8 974.8,1458.1 961.4,1455.5 C949.1,1453.2 937.9,1452.3 925.7,1452.5 C912.8,1452.8 898.7,1454.9 886.0,1457.7 C873.6,1460.4 862.1,1465.1 850.2,1468.8 C845.3,1459.1 840.3,1449.2 835.5,1439.6 C830.8,1430.3 826.7,1420.9 821.7,1412.3 C816.8,1404.1 811.0,1396.1 805.9,1389.2 C801.5,1383.2 797.8,1378.5 793.1,1373.0 C788.0,1367.1 781.8,1360.5 776.3,1354.9 C771.3,1349.8 766.8,1346.0 761.5,1340.8 C755.1,1334.5 747.6,1326.6 740.7,1319.6 C734.1,1312.8 729.4,1306.4 721.0,1299.5 C709.1,1289.6 690.4,1277.6 674.5,1268.2 C659.0,1259.2 643.5,1251.6 627.0,1244.1 C609.6,1236.2 590.8,1228.4 572.5,1222.0 C554.5,1215.7 536.3,1210.1 518.0,1205.9 C500.0,1201.8 481.7,1200.0 463.5,1197.0 Z" fill="#ffff00"/>
<g transform="matrix(0.991939 -0.001903 -0.004217 1.009720 -1127.075 1081.872)">
<rect x="1590" y="20" width="1240" height="400" fill="url(#gtop)"/>
<rect x="1130" y="830" width="1640" height="200" fill="url(#gbot)"/>
</g></g>
<path d="M472.4,1192.9 C487.6,1195.9 502.2,1198.3 518.0,1201.9 C535.4,1205.9 554.5,1210.3 572.5,1215.9 C590.8,1221.6 610.4,1229.0 627.0,1236.0 C641.4,1242.1 653.9,1247.3 666.6,1255.1 C680.0,1263.3 692.3,1274.4 705.2,1284.3 C718.3,1294.5 733.5,1306.0 744.7,1315.6 C753.5,1323.1 758.4,1331.5 767.4,1336.7 C777.0,1342.2 788.6,1343.9 801.0,1347.0 C815.9,1350.8 834.2,1355.3 851.0,1357.0 C867.8,1358.7 885.1,1358.3 902.0,1357.0 C918.8,1355.7 934.5,1353.1 952.0,1349.0 C972.0,1344.3 995.5,1337.4 1015.0,1329.0 C1033.3,1321.2 1049.9,1310.6 1066.0,1301.0 C1081.1,1291.9 1094.8,1283.3 1109.0,1273.0 C1124.1,1262.1 1139.6,1249.2 1154.0,1237.0 C1167.9,1225.2 1180.8,1212.4 1194.0,1201.0 C1206.5,1190.2 1218.4,1177.3 1231.0,1170.0 C1241.8,1163.8 1252.1,1160.7 1264.0,1158.0 C1277.2,1155.0 1293.1,1153.7 1307.0,1154.0 C1320.1,1154.2 1331.5,1156.8 1345.0,1159.0 C1360.6,1161.6 1377.7,1166.2 1395.0,1169.0 C1413.3,1172.0 1434.2,1176.3 1452.0,1176.0 C1467.6,1175.7 1480.0,1171.3 1496.0,1169.0 C1515.1,1166.3 1539.1,1162.5 1559.0,1161.0 C1576.9,1159.7 1594.0,1159.4 1610.0,1160.0 C1624.2,1160.6 1636.1,1160.8 1650.0,1164.0 C1666.2,1167.8 1684.3,1175.7 1701.0,1183.0 C1717.9,1190.4 1736.0,1198.0 1751.0,1208.0 C1765.2,1217.5 1777.9,1229.9 1789.0,1241.0 C1798.9,1250.9 1804.8,1259.7 1815.0,1271.0 C1828.9,1286.4 1849.7,1306.4 1865.6,1324.5 C1880.9,1342.1 1896.1,1359.7 1909.0,1378.0 C1921.3,1395.4 1930.7,1413.0 1941.5,1431.4 C1952.7,1450.6 1965.0,1470.4 1975.0,1490.9 C1985.0,1511.5 1993.6,1532.6 2001.5,1554.5 C2009.6,1577.0 2016.3,1600.9 2023.0,1624.1 C2029.7,1647.0 2036.8,1670.5 2041.6,1692.7 C2046.0,1713.2 2049.4,1732.6 2051.2,1752.3 C2053.1,1771.3 2053.6,1789.4 2053.0,1808.8 C2052.3,1829.4 2050.6,1853.0 2046.8,1872.4 C2043.4,1889.6 2039.2,1904.9 2032.7,1919.9 C2026.2,1934.9 2017.6,1948.4 2007.7,1962.4 C1996.9,1977.7 1984.6,1994.1 1969.8,2007.9 C1954.1,2022.6 1933.7,2036.5 1915.1,2047.4 C1897.9,2057.5 1881.5,2065.4 1862.4,2071.7 C1841.5,2078.6 1816.1,2082.5 1793.9,2086.0 C1773.5,2089.2 1754.6,2091.9 1734.4,2092.2 C1713.6,2092.4 1694.8,2091.1 1670.9,2087.2 C1638.9,2082.0 1596.8,2067.9 1560.0,2059.2 C1523.8,2050.6 1488.5,2041.6 1451.9,2035.1 C1414.8,2028.6 1375.6,2024.1 1338.9,2020.2 C1304.3,2016.6 1269.4,2014.1 1237.8,2012.3 C1210.0,2010.7 1187.3,2009.3 1159.4,2009.4 C1127.4,2009.7 1089.2,2011.8 1056.2,2014.7 C1025.6,2017.4 1001.8,2021.6 967.9,2026.0 C922.1,2031.9 850.8,2042.8 806.1,2047.5 C774.8,2050.8 755.6,2052.4 725.8,2053.7 C688.5,2055.3 646.4,2056.2 599.8,2055.0 C541.5,2053.4 465.7,2046.5 403.4,2042.2 C346.9,2038.3 300.3,2037.1 241.8,2030.4 C171.5,2022.4 87.8,2006.5 10.8,1994.5" fill="none" stroke="#14f014" stroke-width="6" stroke-linejoin="round" stroke-linecap="round"/>
<path d="M21.9,1961.1 C51.6,1967.1 78.5,1973.0 111.1,1979.2 C150.5,1986.6 200.0,1997.0 241.9,2002.1 C280.3,2006.8 315.9,2008.7 353.0,2010.0 C390.0,2011.3 428.0,2011.8 464.1,2009.8 C498.4,2007.8 529.4,2003.4 564.3,1998.5 C602.8,1993.1 647.4,1985.5 685.4,1978.0 C719.4,1971.4 762.5,1962.6 781.7,1956.7 C790.2,1954.1 793.6,1951.9 799.6,1949.6 L1053.5,1949.1 C1082.6,1957.4 1110.7,1967.1 1140.7,1974.1 C1172.1,1981.5 1202.4,1987.1 1237.9,1992.1 C1280.3,1998.1 1339.3,2004.1 1378.7,2006.0 C1407.0,2007.4 1427.7,2005.9 1452.1,2005.9 C1476.3,2005.8 1499.6,2006.5 1524.5,2005.7 C1551.0,2004.9 1578.9,2003.3 1606.8,2000.5 C1636.0,1997.6 1667.4,1993.4 1696.1,1988.2 C1723.2,1983.4 1750.6,1976.6 1774.6,1970.9 C1795.0,1966.1 1814.9,1962.1 1831.2,1956.7 C1844.1,1952.4 1854.7,1948.4 1865.0,1942.5 C1874.8,1936.8 1883.7,1929.7 1891.8,1922.2 C1899.9,1914.8 1908.0,1906.6 1913.8,1897.9 C1919.1,1890.0 1921.9,1881.7 1925.8,1872.7 C1930.0,1862.7 1934.4,1851.8 1937.8,1840.3 C1941.5,1828.0 1944.4,1814.8 1946.9,1800.9 C1949.6,1785.7 1952.0,1768.9 1953.0,1752.5 C1954.1,1735.6 1953.3,1719.7 1953.3,1701.0 C1953.2,1678.4 1955.1,1650.4 1952.6,1626.3 C1950.2,1603.0 1944.8,1579.9 1939.0,1558.6 C1933.6,1539.0 1927.2,1521.2 1919.4,1503.1 C1911.5,1484.9 1902.0,1467.2 1891.8,1449.7 C1881.4,1431.6 1869.6,1413.3 1857.3,1396.2 C1845.2,1379.4 1832.7,1362.7 1818.8,1347.8 C1805.3,1333.2 1790.6,1319.6 1775.4,1307.5 C1760.6,1295.8 1744.8,1286.6 1728.9,1276.3 C1712.5,1265.8 1695.5,1254.3 1678.4,1245.1 C1661.9,1236.3 1644.3,1228.4 1628.0,1222.0 C1613.3,1216.2 1598.8,1211.6 1585.0,1208.0 C1572.6,1204.8 1561.0,1203.3 1549.0,1201.0 L1546.0,1222.0 C1529.3,1219.7 1512.2,1216.9 1496.0,1215.0 C1480.9,1213.3 1466.7,1211.0 1452.0,1211.0 C1437.3,1211.0 1423.0,1213.2 1408.0,1215.0 C1392.1,1216.9 1375.3,1219.7 1359.0,1222.0 L1355.0,1201.0 C1343.3,1203.3 1331.7,1204.9 1320.0,1208.0 C1308.0,1211.2 1295.1,1215.9 1284.0,1220.0 C1274.3,1223.6 1267.7,1226.0 1257.0,1231.0 C1240.2,1238.8 1214.4,1251.9 1194.0,1264.0 C1173.4,1276.2 1150.0,1290.5 1134.0,1304.0 C1121.5,1314.5 1114.4,1324.2 1104.0,1336.0 C1091.9,1349.8 1078.5,1366.2 1066.0,1382.0 C1053.2,1398.2 1039.2,1416.6 1028.0,1432.0 C1018.6,1444.9 1011.3,1456.0 1003.0,1468.0 C989.1,1463.8 974.8,1458.1 961.4,1455.5 C949.1,1453.2 937.9,1452.3 925.7,1452.5 C912.8,1452.8 898.7,1454.9 886.0,1457.7 C873.6,1460.4 862.1,1465.1 850.2,1468.8 C845.3,1459.1 840.3,1449.2 835.5,1439.6 C830.8,1430.3 826.7,1420.9 821.7,1412.3 C816.8,1404.1 811.0,1396.1 805.9,1389.2 C801.5,1383.2 797.8,1378.5 793.1,1373.0 C788.0,1367.1 781.8,1360.5 776.3,1354.9 C771.3,1349.8 766.8,1346.0 761.5,1340.8 C755.1,1334.5 747.6,1326.6 740.7,1319.6 C734.1,1312.8 729.4,1306.4 721.0,1299.5 C709.1,1289.6 690.4,1277.6 674.5,1268.2 C659.0,1259.2 643.5,1251.6 627.0,1244.1 C609.6,1236.2 590.8,1228.4 572.5,1222.0 C554.5,1215.7 536.3,1210.1 518.0,1205.9 C500.0,1201.8 481.7,1200.0 463.5,1197.0" fill="none" stroke="#000" stroke-width="5.5" stroke-linejoin="miter"/>
<line x1="1109.0" y1="1273.0" x2="1134.0" y2="1304.0" stroke="#000" stroke-width="5.5"/>
<line x1="1264.0" y1="1160.0" x2="1284.0" y2="1219.0" stroke="#000" stroke-width="5.5"/>
<line x1="1452.0" y1="1177.0" x2="1452.0" y2="1211.0" stroke="#000" stroke-width="5.5"/>
<line x1="1650.0" y1="1165.0" x2="1628.0" y2="1222.0" stroke="#000" stroke-width="5.5"/>
<line x1="1812.2" y1="1274.1" x2="1777.3" y2="1309.5" stroke="#000" stroke-width="5.5"/>
<line x1="1940.5" y1="1429.4" x2="1889.8" y2="1449.7" stroke="#000" stroke-width="5.5"/>
<line x1="2023.0" y1="1626.1" x2="1952.6" y2="1626.3" stroke="#000" stroke-width="5.5"/>
<line x1="2007.7" y1="1962.4" x2="1913.8" y2="1897.9" stroke="#000" stroke-width="5.5"/>
<line x1="1862.4" y1="2073.7" x2="1831.2" y2="1956.7" stroke="#000" stroke-width="5.5"/>
<line x1="1451.9" y1="2035.1" x2="1452.1" y2="2005.9" stroke="#000" stroke-width="5.5"/>
<line x1="1056.2" y1="2014.7" x2="1071.4" y2="1957.1" stroke="#000" stroke-width="5.5"/>
<line x1="806.1" y1="2047.5" x2="781.7" y2="1957.7" stroke="#000" stroke-width="5.5"/>
<line x1="402.4" y1="2040.2" x2="402.6" y2="2009.9" stroke="#000" stroke-width="5.5"/>
<line x1="10.8" y1="1994.5" x2="21.9" y2="1961.1" stroke="#000" stroke-width="5.5"/>
<line x1="3.1" y1="1953.1" x2="21.9" y2="1961.1" stroke="#000" stroke-width="5.5"/>
<clipPath id="clipc"><path d="M2764.0,1192.0 C2782.3,1194.0 2800.9,1193.9 2819.0,1198.0 C2837.6,1202.2 2859.6,1210.7 2874.0,1217.0 C2883.9,1221.3 2889.8,1224.2 2898.0,1230.0 C2908.1,1237.1 2917.9,1248.5 2929.0,1258.0 C2941.3,1268.5 2956.0,1282.1 2969.0,1290.0 C2979.6,1296.5 2987.7,1299.5 3000.0,1304.0 C3017.1,1310.3 3041.8,1318.2 3063.0,1322.0 C3083.8,1325.8 3105.0,1326.7 3126.0,1327.0 C3147.0,1327.3 3168.1,1326.2 3189.0,1324.0 C3210.1,1321.8 3230.1,1318.6 3252.0,1314.0 C3276.3,1308.9 3303.3,1302.1 3328.0,1294.0 C3352.3,1286.0 3379.1,1276.7 3399.0,1266.0 C3415.1,1257.4 3426.3,1246.2 3439.9,1237.5 C3453.0,1229.1 3463.4,1223.2 3479.0,1214.3 C3501.9,1201.4 3538.1,1178.2 3564.3,1168.1 C3584.6,1160.2 3600.7,1157.9 3621.4,1153.9 C3645.5,1149.3 3676.2,1144.7 3700.5,1142.8 C3721.1,1141.1 3743.0,1141.8 3757.6,1141.7 C3766.7,1141.6 3770.2,1141.4 3779.7,1141.6 C3797.1,1142.1 3827.5,1141.2 3853.8,1145.5 C3884.7,1150.6 3923.3,1162.1 3952.9,1173.4 C3978.5,1183.2 4000.8,1195.7 4022.0,1207.4 C4040.8,1217.8 4057.4,1228.4 4074.0,1239.4 C4089.7,1249.8 4103.9,1258.8 4119.0,1271.4 C4136.5,1285.9 4155.6,1304.8 4172.0,1322.4 C4187.9,1339.5 4202.9,1357.4 4216.0,1375.5 C4228.4,1392.8 4238.1,1410.3 4249.0,1428.6 C4260.4,1447.7 4272.8,1467.4 4282.9,1487.7 C4293.1,1508.1 4301.8,1529.1 4309.9,1550.8 C4318.2,1573.2 4325.0,1597.0 4331.8,1620.0 C4338.6,1642.7 4346.7,1665.4 4350.7,1688.1 C4354.6,1710.1 4355.8,1731.9 4356.0,1754.0 C4356.2,1776.5 4355.3,1800.2 4352.0,1822.0 C4348.8,1842.8 4344.1,1861.9 4337.0,1882.0 C4329.4,1903.6 4319.1,1926.7 4307.0,1947.0 C4295.0,1967.0 4281.0,1986.6 4265.0,2003.0 C4249.3,2019.2 4229.2,2034.3 4212.0,2045.0 C4197.9,2053.7 4183.9,2058.4 4170.8,2064.5 C4159.0,2070.0 4149.6,2075.9 4137.0,2080.0 C4122.4,2084.8 4105.1,2088.0 4088.0,2090.0 C4069.6,2092.2 4048.5,2092.8 4030.0,2092.0 C4012.9,2091.3 3997.2,2088.3 3981.0,2086.0 C3964.9,2083.7 3949.8,2080.7 3933.0,2078.0 C3914.6,2075.0 3894.3,2073.1 3875.0,2069.0 C3855.3,2064.8 3835.7,2058.6 3816.0,2053.0 C3796.0,2047.3 3779.4,2040.7 3756.0,2035.0 C3724.2,2027.2 3679.1,2018.2 3642.0,2013.2 C3607.1,2008.6 3571.7,2007.2 3539.8,2005.4 C3511.8,2003.8 3488.9,2002.3 3460.7,2002.5 C3428.4,2002.7 3389.9,2004.8 3356.5,2007.7 C3325.6,2010.4 3301.5,2014.5 3267.4,2018.9 C3221.1,2024.8 3149.1,2035.6 3104.1,2040.2 C3072.4,2043.5 3053.0,2045.1 3022.9,2046.4 C2985.3,2048.0 2942.8,2048.9 2895.7,2047.6 C2836.9,2046.0 2760.3,2039.2 2697.4,2034.9 C2640.3,2031.1 2593.3,2029.8 2534.1,2023.2 C2463.1,2015.2 2378.6,1999.4 2300.8,1987.5 L2311.9,1954.4 C2341.9,1960.3 2369.0,1966.2 2402.0,1972.3 C2441.8,1979.7 2491.8,1990.0 2534.2,1995.1 C2573.0,1999.8 2608.9,2001.7 2646.4,2002.9 C2683.7,2004.2 2722.2,2004.8 2758.5,2002.7 C2793.2,2000.8 2824.5,1996.4 2859.7,1991.5 C2898.6,1986.2 2943.6,1978.6 2982.0,1971.3 C3016.3,1964.7 3059.8,1955.9 3079.2,1950.0 C3087.7,1947.5 3091.2,1945.3 3097.2,1943.0 L3353.6,1942.5 C3383.0,1950.9 3411.4,1960.4 3441.7,1967.5 C3473.4,1974.8 3504.0,1980.4 3539.9,1985.3 C3582.8,1991.3 3642.3,1997.2 3682.1,1999.1 C3710.7,2000.5 3731.6,1999.1 3756.2,1999.0 C3780.7,1999.0 3804.2,1999.7 3829.3,1998.9 C3856.2,1998.0 3884.3,1996.5 3912.5,1993.7 C3942.0,1990.8 3973.7,1986.6 4002.7,1981.5 C4030.0,1976.7 4057.6,1970.0 4081.8,1964.4 C4102.4,1959.6 4122.5,1955.6 4138.9,1950.2 C4151.9,1945.9 4162.6,1942.0 4173.0,1936.1 C4182.9,1930.5 4191.8,1923.5 4200.1,1916.0 C4208.2,1908.7 4216.4,1900.5 4222.2,1891.9 C4227.5,1884.0 4230.4,1875.8 4234.2,1866.8 C4238.5,1856.9 4242.9,1846.1 4246.3,1834.7 C4250.0,1822.4 4252.9,1809.4 4255.4,1795.6 C4258.1,1780.4 4260.4,1763.8 4261.5,1747.5 C4262.5,1730.7 4261.6,1714.9 4261.6,1696.3 C4261.4,1673.9 4263.3,1646.1 4260.7,1622.1 C4258.2,1599.0 4252.7,1576.0 4246.8,1554.9 C4241.2,1535.5 4234.7,1517.8 4226.8,1499.8 C4218.8,1481.7 4209.2,1464.2 4198.9,1446.7 C4188.2,1428.8 4176.3,1410.6 4163.9,1393.7 C4151.6,1376.9 4138.9,1360.4 4124.9,1345.6 C4111.2,1331.1 4096.3,1317.5 4080.9,1305.6 C4065.9,1293.9 4050.0,1284.7 4033.9,1274.5 C4017.3,1264.1 4000.1,1253.0 3982.8,1243.6 C3966.0,1234.4 3951.4,1225.6 3931.8,1218.6 C3907.4,1209.9 3872.8,1203.6 3846.7,1198.7 C3824.7,1194.5 3802.6,1191.0 3785.6,1189.7 C3773.5,1188.9 3765.2,1189.8 3754.5,1189.8 C3743.2,1189.8 3733.0,1188.8 3719.5,1189.9 C3700.7,1191.3 3674.3,1195.7 3652.3,1200.0 C3630.9,1204.2 3611.9,1207.3 3589.2,1215.2 C3560.5,1225.1 3522.4,1242.7 3495.0,1258.4 C3471.8,1271.7 3452.8,1286.0 3434.0,1301.0 C3416.3,1315.2 3400.7,1329.1 3385.0,1346.0 C3367.9,1364.4 3350.1,1387.3 3336.0,1408.0 C3323.1,1426.9 3314.0,1446.0 3303.0,1465.0 C3290.3,1461.0 3277.8,1455.7 3265.0,1453.0 C3252.5,1450.4 3239.9,1449.0 3227.0,1449.0 C3213.6,1448.9 3199.5,1450.4 3186.0,1453.0 C3172.5,1455.7 3159.3,1461.0 3146.0,1465.0 C3135.3,1447.3 3124.4,1427.9 3114.0,1412.0 C3105.1,1398.4 3097.0,1387.6 3088.0,1375.0 C3078.4,1361.6 3068.0,1347.7 3058.0,1334.0 L3045.0,1327.0 L3028.0,1344.0 C3018.7,1335.0 3009.9,1325.1 3000.0,1317.0 C2990.2,1309.1 2980.1,1303.2 2969.0,1296.0 C2956.6,1287.9 2942.4,1278.8 2929.0,1271.0 C2916.0,1263.5 2901.3,1254.8 2890.0,1250.0 C2881.8,1246.5 2875.3,1245.3 2868.0,1243.0 L2872.0,1223.0 C2862.3,1219.7 2853.5,1216.2 2843.0,1213.0 C2830.8,1209.2 2817.1,1204.9 2803.0,1202.0 C2787.6,1198.8 2770.3,1197.3 2754.0,1195.0 Z"/></clipPath>
<g clip-path="url(#clipc)">
<path d="M2764.0,1192.0 C2782.3,1194.0 2800.9,1193.9 2819.0,1198.0 C2837.6,1202.2 2859.6,1210.7 2874.0,1217.0 C2883.9,1221.3 2889.8,1224.2 2898.0,1230.0 C2908.1,1237.1 2917.9,1248.5 2929.0,1258.0 C2941.3,1268.5 2956.0,1282.1 2969.0,1290.0 C2979.6,1296.5 2987.7,1299.5 3000.0,1304.0 C3017.1,1310.3 3041.8,1318.2 3063.0,1322.0 C3083.8,1325.8 3105.0,1326.7 3126.0,1327.0 C3147.0,1327.3 3168.1,1326.2 3189.0,1324.0 C3210.1,1321.8 3230.1,1318.6 3252.0,1314.0 C3276.3,1308.9 3303.3,1302.1 3328.0,1294.0 C3352.3,1286.0 3379.1,1276.7 3399.0,1266.0 C3415.1,1257.4 3426.3,1246.2 3439.9,1237.5 C3453.0,1229.1 3463.4,1223.2 3479.0,1214.3 C3501.9,1201.4 3538.1,1178.2 3564.3,1168.1 C3584.6,1160.2 3600.7,1157.9 3621.4,1153.9 C3645.5,1149.3 3676.2,1144.7 3700.5,1142.8 C3721.1,1141.1 3743.0,1141.8 3757.6,1141.7 C3766.7,1141.6 3770.2,1141.4 3779.7,1141.6 C3797.1,1142.1 3827.5,1141.2 3853.8,1145.5 C3884.7,1150.6 3923.3,1162.1 3952.9,1173.4 C3978.5,1183.2 4000.8,1195.7 4022.0,1207.4 C4040.8,1217.8 4057.4,1228.4 4074.0,1239.4 C4089.7,1249.8 4103.9,1258.8 4119.0,1271.4 C4136.5,1285.9 4155.6,1304.8 4172.0,1322.4 C4187.9,1339.5 4202.9,1357.4 4216.0,1375.5 C4228.4,1392.8 4238.1,1410.3 4249.0,1428.6 C4260.4,1447.7 4272.8,1467.4 4282.9,1487.7 C4293.1,1508.1 4301.8,1529.1 4309.9,1550.8 C4318.2,1573.2 4325.0,1597.0 4331.8,1620.0 C4338.6,1642.7 4346.7,1665.4 4350.7,1688.1 C4354.6,1710.1 4355.8,1731.9 4356.0,1754.0 C4356.2,1776.5 4355.3,1800.2 4352.0,1822.0 C4348.8,1842.8 4344.1,1861.9 4337.0,1882.0 C4329.4,1903.6 4319.1,1926.7 4307.0,1947.0 C4295.0,1967.0 4281.0,1986.6 4265.0,2003.0 C4249.3,2019.2 4229.2,2034.3 4212.0,2045.0 C4197.9,2053.7 4183.9,2058.4 4170.8,2064.5 C4159.0,2070.0 4149.6,2075.9 4137.0,2080.0 C4122.4,2084.8 4105.1,2088.0 4088.0,2090.0 C4069.6,2092.2 4048.5,2092.8 4030.0,2092.0 C4012.9,2091.3 3997.2,2088.3 3981.0,2086.0 C3964.9,2083.7 3949.8,2080.7 3933.0,2078.0 C3914.6,2075.0 3894.3,2073.1 3875.0,2069.0 C3855.3,2064.8 3835.7,2058.6 3816.0,2053.0 C3796.0,2047.3 3779.4,2040.7 3756.0,2035.0 C3724.2,2027.2 3679.1,2018.2 3642.0,2013.2 C3607.1,2008.6 3571.7,2007.2 3539.8,2005.4 C3511.8,2003.8 3488.9,2002.3 3460.7,2002.5 C3428.4,2002.7 3389.9,2004.8 3356.5,2007.7 C3325.6,2010.4 3301.5,2014.5 3267.4,2018.9 C3221.1,2024.8 3149.1,2035.6 3104.1,2040.2 C3072.4,2043.5 3053.0,2045.1 3022.9,2046.4 C2985.3,2048.0 2942.8,2048.9 2895.7,2047.6 C2836.9,2046.0 2760.3,2039.2 2697.4,2034.9 C2640.3,2031.1 2593.3,2029.8 2534.1,2023.2 C2463.1,2015.2 2378.6,1999.4 2300.8,1987.5 L2311.9,1954.4 C2341.9,1960.3 2369.0,1966.2 2402.0,1972.3 C2441.8,1979.7 2491.8,1990.0 2534.2,1995.1 C2573.0,1999.8 2608.9,2001.7 2646.4,2002.9 C2683.7,2004.2 2722.2,2004.8 2758.5,2002.7 C2793.2,2000.8 2824.5,1996.4 2859.7,1991.5 C2898.6,1986.2 2943.6,1978.6 2982.0,1971.3 C3016.3,1964.7 3059.8,1955.9 3079.2,1950.0 C3087.7,1947.5 3091.2,1945.3 3097.2,1943.0 L3353.6,1942.5 C3383.0,1950.9 3411.4,1960.4 3441.7,1967.5 C3473.4,1974.8 3504.0,1980.4 3539.9,1985.3 C3582.8,1991.3 3642.3,1997.2 3682.1,1999.1 C3710.7,2000.5 3731.6,1999.1 3756.2,1999.0 C3780.7,1999.0 3804.2,1999.7 3829.3,1998.9 C3856.2,1998.0 3884.3,1996.5 3912.5,1993.7 C3942.0,1990.8 3973.7,1986.6 4002.7,1981.5 C4030.0,1976.7 4057.6,1970.0 4081.8,1964.4 C4102.4,1959.6 4122.5,1955.6 4138.9,1950.2 C4151.9,1945.9 4162.6,1942.0 4173.0,1936.1 C4182.9,1930.5 4191.8,1923.5 4200.1,1916.0 C4208.2,1908.7 4216.4,1900.5 4222.2,1891.9 C4227.5,1884.0 4230.4,1875.8 4234.2,1866.8 C4238.5,1856.9 4242.9,1846.1 4246.3,1834.7 C4250.0,1822.4 4252.9,1809.4 4255.4,1795.6 C4258.1,1780.4 4260.4,1763.8 4261.5,1747.5 C4262.5,1730.7 4261.6,1714.9 4261.6,1696.3 C4261.4,1673.9 4263.3,1646.1 4260.7,1622.1 C4258.2,1599.0 4252.7,1576.0 4246.8,1554.9 C4241.2,1535.5 4234.7,1517.8 4226.8,1499.8 C4218.8,1481.7 4209.2,1464.2 4198.9,1446.7 C4188.2,1428.8 4176.3,1410.6 4163.9,1393.7 C4151.6,1376.9 4138.9,1360.4 4124.9,1345.6 C4111.2,1331.1 4096.3,1317.5 4080.9,1305.6 C4065.9,1293.9 4050.0,1284.7 4033.9,1274.5 C4017.3,1264.1 4000.1,1253.0 3982.8,1243.6 C3966.0,1234.4 3951.4,1225.6 3931.8,1218.6 C3907.4,1209.9 3872.8,1203.6 3846.7,1198.7 C3824.7,1194.5 3802.6,1191.0 3785.6,1189.7 C3773.5,1188.9 3765.2,1189.8 3754.5,1189.8 C3743.2,1189.8 3733.0,1188.8 3719.5,1189.9 C3700.7,1191.3 3674.3,1195.7 3652.3,1200.0 C3630.9,1204.2 3611.9,1207.3 3589.2,1215.2 C3560.5,1225.1 3522.4,1242.7 3495.0,1258.4 C3471.8,1271.7 3452.8,1286.0 3434.0,1301.0 C3416.3,1315.2 3400.7,1329.1 3385.0,1346.0 C3367.9,1364.4 3350.1,1387.3 3336.0,1408.0 C3323.1,1426.9 3314.0,1446.0 3303.0,1465.0 C3290.3,1461.0 3277.8,1455.7 3265.0,1453.0 C3252.5,1450.4 3239.9,1449.0 3227.0,1449.0 C3213.6,1448.9 3199.5,1450.4 3186.0,1453.0 C3172.5,1455.7 3159.3,1461.0 3146.0,1465.0 C3135.3,1447.3 3124.4,1427.9 3114.0,1412.0 C3105.1,1398.4 3097.0,1387.6 3088.0,1375.0 C3078.4,1361.6 3068.0,1347.7 3058.0,1334.0 L3045.0,1327.0 L3028.0,1344.0 C3018.7,1335.0 3009.9,1325.1 3000.0,1317.0 C2990.2,1309.1 2980.1,1303.2 2969.0,1296.0 C2956.6,1287.9 2942.4,1278.8 2929.0,1271.0 C2916.0,1263.5 2901.3,1254.8 2890.0,1250.0 C2881.8,1246.5 2875.3,1245.3 2868.0,1243.0 L2872.0,1223.0 C2862.3,1219.7 2853.5,1216.2 2843.0,1213.0 C2830.8,1209.2 2817.1,1204.9 2803.0,1202.0 C2787.6,1198.8 2770.3,1197.3 2754.0,1195.0 Z" fill="#ffff00"/>
<g transform="matrix(1.001676 -0.001732 -0.001647 1.002747 1149.365 1080.994)">
<rect x="1590" y="20" width="1240" height="400" fill="url(#gtop)"/>
<rect x="1130" y="830" width="1640" height="200" fill="url(#gbot)"/>
</g></g>
<path d="M2764.0,1192.0 C2782.3,1194.0 2800.9,1193.9 2819.0,1198.0 C2837.6,1202.2 2859.6,1210.7 2874.0,1217.0 C2883.9,1221.3 2889.8,1224.2 2898.0,1230.0 C2908.1,1237.1 2917.9,1248.5 2929.0,1258.0 C2941.3,1268.5 2956.0,1282.1 2969.0,1290.0 C2979.6,1296.5 2987.7,1299.5 3000.0,1304.0 C3017.1,1310.3 3041.8,1318.2 3063.0,1322.0 C3083.8,1325.8 3105.0,1326.7 3126.0,1327.0 C3147.0,1327.3 3168.1,1326.2 3189.0,1324.0 C3210.1,1321.8 3230.1,1318.6 3252.0,1314.0 C3276.3,1308.9 3303.3,1302.1 3328.0,1294.0 C3352.3,1286.0 3379.1,1276.7 3399.0,1266.0 C3415.1,1257.4 3426.3,1246.2 3439.9,1237.5 C3453.0,1229.1 3463.4,1223.2 3479.0,1214.3 C3501.9,1201.4 3538.1,1178.2 3564.3,1168.1 C3584.6,1160.2 3600.7,1157.9 3621.4,1153.9 C3645.5,1149.3 3676.2,1144.7 3700.5,1142.8 C3721.1,1141.1 3743.0,1141.8 3757.6,1141.7 C3766.7,1141.6 3770.2,1141.4 3779.7,1141.6 C3797.1,1142.1 3827.5,1141.2 3853.8,1145.5 C3884.7,1150.6 3923.3,1162.1 3952.9,1173.4 C3978.5,1183.2 4000.8,1195.7 4022.0,1207.4 C4040.8,1217.8 4057.4,1228.4 4074.0,1239.4 C4089.7,1249.8 4103.9,1258.8 4119.0,1271.4 C4136.5,1285.9 4155.6,1304.8 4172.0,1322.4 C4187.9,1339.5 4202.9,1357.4 4216.0,1375.5 C4228.4,1392.8 4238.1,1410.3 4249.0,1428.6 C4260.4,1447.7 4272.8,1467.4 4282.9,1487.7 C4293.1,1508.1 4301.8,1529.1 4309.9,1550.8 C4318.2,1573.2 4325.0,1597.0 4331.8,1620.0 C4338.6,1642.7 4346.7,1665.4 4350.7,1688.1 C4354.6,1710.1 4355.8,1731.9 4356.0,1754.0 C4356.2,1776.5 4355.3,1800.2 4352.0,1822.0 C4348.8,1842.8 4344.1,1861.9 4337.0,1882.0 C4329.4,1903.6 4319.1,1926.7 4307.0,1947.0 C4295.0,1967.0 4281.0,1986.6 4265.0,2003.0 C4249.3,2019.2 4229.2,2034.3 4212.0,2045.0 C4197.9,2053.7 4183.9,2058.4 4170.8,2064.5 C4159.0,2070.0 4149.6,2075.9 4137.0,2080.0 C4122.4,2084.8 4105.1,2088.0 4088.0,2090.0 C4069.6,2092.2 4048.5,2092.8 4030.0,2092.0 C4012.9,2091.3 3997.2,2088.3 3981.0,2086.0 C3964.9,2083.7 3949.8,2080.7 3933.0,2078.0 C3914.6,2075.0 3894.3,2073.1 3875.0,2069.0 C3855.3,2064.8 3835.7,2058.6 3816.0,2053.0 C3796.0,2047.3 3779.4,2040.7 3756.0,2035.0 C3724.2,2027.2 3679.1,2018.2 3642.0,2013.2 C3607.1,2008.6 3571.7,2007.2 3539.8,2005.4 C3511.8,2003.8 3488.9,2002.3 3460.7,2002.5 C3428.4,2002.7 3389.9,2004.8 3356.5,2007.7 C3325.6,2010.4 3301.5,2014.5 3267.4,2018.9 C3221.1,2024.8 3149.1,2035.6 3104.1,2040.2 C3072.4,2043.5 3053.0,2045.1 3022.9,2046.4 C2985.3,2048.0 2942.8,2048.9 2895.7,2047.6 C2836.9,2046.0 2760.3,2039.2 2697.4,2034.9 C2640.3,2031.1 2593.3,2029.8 2534.1,2023.2 C2463.1,2015.2 2378.6,1999.4 2300.8,1987.5" fill="none" stroke="#14f014" stroke-width="6" stroke-linejoin="round" stroke-linecap="round"/>
<path d="M2311.9,1954.4 C2341.9,1960.3 2369.0,1966.2 2402.0,1972.3 C2441.8,1979.7 2491.8,1990.0 2534.2,1995.1 C2573.0,1999.8 2608.9,2001.7 2646.4,2002.9 C2683.7,2004.2 2722.2,2004.8 2758.5,2002.7 C2793.2,2000.8 2824.5,1996.4 2859.7,1991.5 C2898.6,1986.2 2943.6,1978.6 2982.0,1971.3 C3016.3,1964.7 3059.8,1955.9 3079.2,1950.0 C3087.7,1947.5 3091.2,1945.3 3097.2,1943.0 L3353.6,1942.5 C3383.0,1950.9 3411.4,1960.4 3441.7,1967.5 C3473.4,1974.8 3504.0,1980.4 3539.9,1985.3 C3582.8,1991.3 3642.3,1997.2 3682.1,1999.1 C3710.7,2000.5 3731.6,1999.1 3756.2,1999.0 C3780.7,1999.0 3804.2,1999.7 3829.3,1998.9 C3856.2,1998.0 3884.3,1996.5 3912.5,1993.7 C3942.0,1990.8 3973.7,1986.6 4002.7,1981.5 C4030.0,1976.7 4057.6,1970.0 4081.8,1964.4 C4102.4,1959.6 4122.5,1955.6 4138.9,1950.2 C4151.9,1945.9 4162.6,1942.0 4173.0,1936.1 C4182.9,1930.5 4191.8,1923.5 4200.1,1916.0 C4208.2,1908.7 4216.4,1900.5 4222.2,1891.9 C4227.5,1884.0 4230.4,1875.8 4234.2,1866.8 C4238.5,1856.9 4242.9,1846.1 4246.3,1834.7 C4250.0,1822.4 4252.9,1809.4 4255.4,1795.6 C4258.1,1780.4 4260.4,1763.8 4261.5,1747.5 C4262.5,1730.7 4261.6,1714.9 4261.6,1696.3 C4261.4,1673.9 4263.3,1646.1 4260.7,1622.1 C4258.2,1599.0 4252.7,1576.0 4246.8,1554.9 C4241.2,1535.5 4234.7,1517.8 4226.8,1499.8 C4218.8,1481.7 4209.2,1464.2 4198.9,1446.7 C4188.2,1428.8 4176.3,1410.6 4163.9,1393.7 C4151.6,1376.9 4138.9,1360.4 4124.9,1345.6 C4111.2,1331.1 4096.3,1317.5 4080.9,1305.6 C4065.9,1293.9 4050.0,1284.7 4033.9,1274.5 C4017.3,1264.1 4000.1,1253.0 3982.8,1243.6 C3966.0,1234.4 3951.4,1225.6 3931.8,1218.6 C3907.4,1209.9 3872.8,1203.6 3846.7,1198.7 C3824.7,1194.5 3802.6,1191.0 3785.6,1189.7 C3773.5,1188.9 3765.2,1189.8 3754.5,1189.8 C3743.2,1189.8 3733.0,1188.8 3719.5,1189.9 C3700.7,1191.3 3674.3,1195.7 3652.3,1200.0 C3630.9,1204.2 3611.9,1207.3 3589.2,1215.2 C3560.5,1225.1 3522.4,1242.7 3495.0,1258.4 C3471.8,1271.7 3452.8,1286.0 3434.0,1301.0 C3416.3,1315.2 3400.7,1329.1 3385.0,1346.0 C3367.9,1364.4 3350.1,1387.3 3336.0,1408.0 C3323.1,1426.9 3314.0,1446.0 3303.0,1465.0 C3290.3,1461.0 3277.8,1455.7 3265.0,1453.0 C3252.5,1450.4 3239.9,1449.0 3227.0,1449.0 C3213.6,1448.9 3199.5,1450.4 3186.0,1453.0 C3172.5,1455.7 3159.3,1461.0 3146.0,1465.0 C3135.3,1447.3 3124.4,1427.9 3114.0,1412.0 C3105.1,1398.4 3097.0,1387.6 3088.0,1375.0 C3078.4,1361.6 3068.0,1347.7 3058.0,1334.0 L3045.0,1327.0 L3028.0,1344.0 C3018.7,1335.0 3009.9,1325.1 3000.0,1317.0 C2990.2,1309.1 2980.1,1303.2 2969.0,1296.0 C2956.6,1287.9 2942.4,1278.8 2929.0,1271.0 C2916.0,1263.5 2901.3,1254.8 2890.0,1250.0 C2881.8,1246.5 2875.3,1245.3 2868.0,1243.0 L2872.0,1223.0 C2862.3,1219.7 2853.5,1216.2 2843.0,1213.0 C2830.8,1209.2 2817.1,1204.9 2803.0,1202.0 C2787.6,1198.8 2770.3,1197.3 2754.0,1195.0" fill="none" stroke="#000" stroke-width="5.5" stroke-linejoin="miter"/>
<line x1="3399.0" y1="1266.0" x2="3434.0" y2="1301.0" stroke="#000" stroke-width="5.5"/>
<line x1="3569.3" y1="1168.1" x2="3589.2" y2="1215.2" stroke="#000" stroke-width="5.5"/>
<line x1="3756.6" y1="1142.7" x2="3756.5" y2="1189.8" stroke="#000" stroke-width="5.5"/>
<line x1="3952.9" y1="1172.4" x2="3932.8" y2="1219.6" stroke="#000" stroke-width="5.5"/>
<line x1="4118.0" y1="1272.4" x2="4082.9" y2="1307.6" stroke="#000" stroke-width="5.5"/>
<line x1="4248.0" y1="1426.6" x2="4196.9" y2="1446.7" stroke="#000" stroke-width="5.5"/>
<line x1="4331.8" y1="1622.0" x2="4260.7" y2="1622.1" stroke="#000" stroke-width="5.5"/>
<line x1="4307.0" y1="1947.0" x2="4225.0" y2="1894.0" stroke="#000" stroke-width="5.5"/>
<line x1="4170.8" y1="2066.5" x2="4138.9" y2="1950.2" stroke="#000" stroke-width="5.5"/>
<line x1="3756.0" y1="2035.0" x2="3756.0" y2="2004.0" stroke="#000" stroke-width="5.5"/>
<line x1="3356.5" y1="2007.7" x2="3371.7" y2="1950.5" stroke="#000" stroke-width="5.5"/>
<line x1="3104.1" y1="2040.2" x2="3079.2" y2="1951.0" stroke="#000" stroke-width="5.5"/>
<line x1="2696.4" y1="2032.9" x2="2696.4" y2="2002.8" stroke="#000" stroke-width="5.5"/>
<line x1="2300.8" y1="1987.5" x2="2311.9" y2="1954.4" stroke="#000" stroke-width="5.5"/>
<line x1="3058.0" y1="1334.0" x2="3068.0" y2="1324.0" stroke="#000" stroke-width="5.5"/>
<line x1="2292.9" y1="1946.4" x2="2311.9" y2="1954.4" stroke="#000" stroke-width="5.5"/>
<rect x="2454" y="692" width="306" height="10" fill="#19b4ef"/>
<rect x="1303" y="1773" width="306" height="9" fill="#19b4ef"/>
<rect x="3588" y="1780" width="308" height="10" fill="#19b4ef"/>
<g font-family="'Liberation Serif', serif" font-size="64" fill="#000" stroke="#000" stroke-width="0.4">
<text x="1659.0" y="100.5" text-anchor="middle">0.021</text>
<text x="1798.5" y="125.5" text-anchor="middle">0.033</text>
<text x="1602.0" y="192.5" text-anchor="middle">S1</text>
<text x="1891.0" y="180.5" text-anchor="middle">0.061</text>
<text x="1724.5" y="216.5" text-anchor="middle">S2</text>
<text x="1980.5" y="238.5" text-anchor="middle">0.078</text>
<text x="1817.0" y="278.5" text-anchor="middle">S3</text>
<text x="1879.5" y="347.5" text-anchor="middle">S4</text>
<text x="2187.0" y="162.5" text-anchor="middle">0.391</text>
<text x="2320.0" y="283.5" text-anchor="middle">D1</text>
<text x="2392.0" y="64.5" text-anchor="middle">0.380</text>
<text x="2461.0" y="206.5" text-anchor="middle">D2</text>
<text x="2593.0" y="42.5" text-anchor="middle">0.323</text>
<text x="2599.0" y="179.5" text-anchor="middle">D3</text>
<text x="2824.0" y="69.5" text-anchor="middle">0.355</text>
<text x="2742.0" y="201.5" text-anchor="middle">D4</text>
<text x="3038.0" y="185.5" text-anchor="middle">0.339</text>
<text x="2878.0" y="282.5" text-anchor="middle">D5</text>
<text x="3189.5" y="348.5" text-anchor="middle">0.371</text>
<text x="2990.5" y="408.5" text-anchor="middle">D6</text>
<text x="3278.0" y="568.5" text-anchor="middle">0.500</text>
<text x="3040.5" y="568.5" text-anchor="middle">D7</text>
<text x="3029.0" y="807.5" text-anchor="middle">D8</text>
<text x="2955.5" y="861.5" text-anchor="middle">D9</text>
<text x="3250.0" y="917.5" text-anchor="middle">0.757</text>
<text x="2599.0" y="904.5" text-anchor="middle">D10</text>
<text x="2586.5" y="1013.5" text-anchor="middle">0.195</text>
<text x="3041.5" y="1058.5" text-anchor="middle">0.795</text>
<text x="1171.0" y="851.5" text-anchor="middle">S7</text>
<text x="1541.0" y="906.5" text-anchor="middle">S6</text>
<text x="1925.0" y="851.5" text-anchor="middle">S5</text>
<text x="2227.5" y="851.5" text-anchor="middle">D11</text>
<text x="1243.0" y="1001.5" text-anchor="middle">0.248</text>
<text x="1534.5" y="1021.5" text-anchor="middle">0.216</text>
<text x="1964.0" y="1022.5" text-anchor="middle">0.608</text>
<text x="2193.5" y="991.5" text-anchor="middle">0.403</text>
<text x="496.5" y="1180.5" text-anchor="middle">0.022</text>
<text x="463.5" y="1268.5" text-anchor="middle">S1</text>
<text x="662.0" y="1211.5" text-anchor="middle">0.039</text>
<text x="567.5" y="1296.5" text-anchor="middle">S2</text>
<text x="749.0" y="1253.5" text-anchor="middle">0.071</text>
<text x="662.0" y="1360.5" text-anchor="middle">S3</text>
<text x="837.0" y="1313.5" text-anchor="middle">0.091</text>
<text x="740.0" y="1426.5" text-anchor="middle">S4</text>
<text x="1032.0" y="1253.5" text-anchor="middle">0.294</text>
<text x="1169.5" y="1380.5" text-anchor="middle">D1</text>
<text x="1241.0" y="1148.5" text-anchor="middle">0.421</text>
<text x="1297.0" y="1290.5" text-anchor="middle">D2</text>
<text x="1469.5" y="1145.5" text-anchor="middle">0.245</text>
<text x="1451.5" y="1268.5" text-anchor="middle">D3</text>
<text x="1673.5" y="1145.5" text-anchor="middle">0.413</text>
<text x="1594.0" y="1296.5" text-anchor="middle">D4</text>
<text x="1889.5" y="1267.5" text-anchor="middle">0.375</text>
<text x="1726.5" y="1360.5" text-anchor="middle">D5</text>
<text x="2026.0" y="1439.5" text-anchor="middle">0.374</text>
<text x="1824.0" y="1495.5" text-anchor="middle">D6</text>
<text x="2120.5" y="1647.5" text-anchor="middle">0.506</text>
<text x="1877.5" y="1656.5" text-anchor="middle">D7</text>
<text x="1852.5" y="1877.5" text-anchor="middle">D8</text>
<text x="1800.5" y="1942.5" text-anchor="middle">R9</text>
<text x="2094.5" y="2007.5" text-anchor="middle">0.724</text>
<text x="1445.0" y="1986.5" text-anchor="middle">D10</text>
<text x="1418.0" y="2103.5" text-anchor="middle">0.195</text>
<text x="1881.0" y="2154.5" text-anchor="middle">0.801</text>
<text x="34.5" y="1940.5" text-anchor="middle">S7</text>
<text x="405.5" y="1987.5" text-anchor="middle">S6</text>
<text x="774.0" y="1941.5" text-anchor="middle">S5</text>
<text x="1082.5" y="1923.5" text-anchor="middle">D11</text>
<text x="106.5" y="2087.5" text-anchor="middle">0.255</text>
<text x="405.5" y="2106.5" text-anchor="middle">0.192</text>
<text x="815.5" y="2111.5" text-anchor="middle">0.613</text>
<text x="1041.5" y="2083.5" text-anchor="middle">0.395</text>
<text x="2791.0" y="1172.5" text-anchor="middle">0.021</text>
<text x="2948.5" y="1208.5" text-anchor="middle">0.048</text>
<text x="2749.5" y="1255.5" text-anchor="middle">S1</text>
<text x="3030.5" y="1253.5" text-anchor="middle">0.024</text>
<text x="2844.5" y="1300.5" text-anchor="middle">S2</text>
<text x="3122.5" y="1311.5" text-anchor="middle">0.150</text>
<text x="2951.5" y="1361.5" text-anchor="middle">S3</text>
<text x="3038.0" y="1414.5" text-anchor="middle">S4</text>
<text x="3331.5" y="1234.5" text-anchor="middle">0.382</text>
<text x="3472.5" y="1361.5" text-anchor="middle">D1</text>
<text x="3543.5" y="1144.5" text-anchor="middle">0.385</text>
<text x="3610.5" y="1288.5" text-anchor="middle">D2</text>
<text x="3743.5" y="1126.5" text-anchor="middle">0.332</text>
<text x="3758.0" y="1256.5" text-anchor="middle">D3</text>
<text x="3980.5" y="1151.5" text-anchor="middle">0.347</text>
<text x="3913.0" y="1292.5" text-anchor="middle">D4</text>
<text x="4199.5" y="1271.5" text-anchor="middle">0.339</text>
<text x="4052.5" y="1367.5" text-anchor="middle">D5</text>
<text x="4329.0" y="1428.5" text-anchor="middle">0.359</text>
<text x="4131.0" y="1495.5" text-anchor="middle">D6</text>
<text x="4196.0" y="1645.5" text-anchor="middle">D7</text>
<text x="4171.5" y="1874.5" text-anchor="middle">D8</text>
<text x="4119.0" y="1938.5" text-anchor="middle">D9</text>
<text x="4398.5" y="1988.5" text-anchor="middle">0.652</text>
<text x="3755.5" y="1984.5" text-anchor="middle">D10</text>
<text x="3726.5" y="2097.5" text-anchor="middle">0.213</text>
<text x="4195.5" y="2141.5" text-anchor="middle">0.797</text>
<text x="2323.5" y="1919.5" text-anchor="middle">S7</text>
<text x="2689.5" y="1984.5" text-anchor="middle">S6</text>
<text x="3069.5" y="1940.5" text-anchor="middle">S5</text>
<text x="3384.5" y="1923.5" text-anchor="middle">D11</text>
<text x="2403.5" y="2080.5" text-anchor="middle">0.259</text>
<text x="2682.5" y="2097.5" text-anchor="middle">0.196</text>
<text x="3108.5" y="2104.5" text-anchor="middle">0.626</text>
<text x="3349.0" y="2072.5" text-anchor="middle">0.402</text>
<text x="4355" y="1637">0.501</text>
<text x="1415.5" y="117.0" text-anchor="middle" font-size="93">(a)</text>
<text x="279.5" y="1176.0" text-anchor="middle" font-size="93">(b)</text>
<text x="2348.0" y="1169.0" text-anchor="middle" font-size="93">(c)</text>
<text x="2062.0" y="634.0" text-anchor="middle" font-size="98">MT-1</text>
<text x="933.0" y="1722.0" text-anchor="middle" font-size="98">MT-2</text>
<text x="3219.0" y="1723.0" text-anchor="middle" font-size="98">MT-3</text>
<text x="2592.5" y="663.0" text-anchor="middle" font-size="96" word-spacing="-8">2 MPa</text>
<text x="1450.0" y="1739.0" text-anchor="middle" font-size="96" word-spacing="-8">2 MPa</text>
<text x="3732.5" y="1742.0" text-anchor="middle" font-size="96" word-spacing="-8">2 MPa</text>
</g>
<circle cx="2548" cy="2210" r="2.5" fill="#333"/><circle cx="2601" cy="2210" r="2.5" fill="#333"/>
</svg></body></html>
